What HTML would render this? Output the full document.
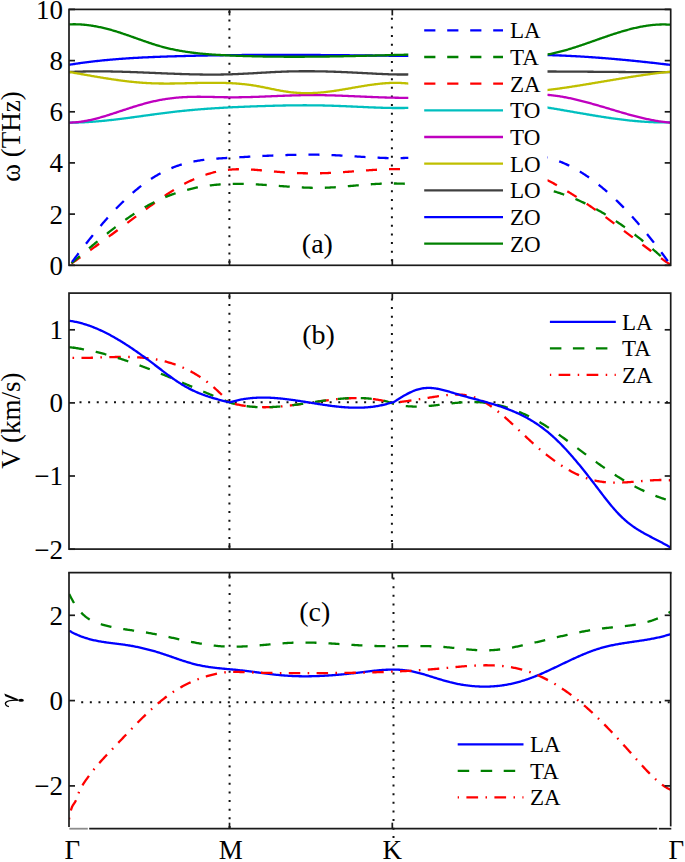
<!DOCTYPE html><html><head><meta charset="utf-8"><style>html,body{margin:0;padding:0;background:#fff;}svg{display:block;}text{font-family:"Liberation Serif",serif;fill:#000;}</style></head><body>
<svg width="685" height="862" viewBox="0 0 685 862">
<rect width="685" height="862" fill="#fff"/>
<defs>
<clipPath id="ca"><rect x="69.0" y="8.4" width="601.7" height="257.9"/></clipPath>
<clipPath id="cb"><rect x="69.0" y="292.1" width="601.7" height="258.0"/></clipPath>
<clipPath id="cc"><rect x="69.0" y="571.6" width="601.7" height="258.1"/></clipPath>
</defs>
<line x1="229.4" y1="10.9" x2="229.4" y2="266.3" stroke="#111" stroke-width="2" stroke-dasharray="2,6.625" fill="none"/>
<line x1="391.9" y1="17.8" x2="391.9" y2="266.3" stroke="#111" stroke-width="2" stroke-dasharray="2,6.625" fill="none"/>
<line x1="229.4" y1="295.4" x2="229.4" y2="550.1" stroke="#111" stroke-width="2" stroke-dasharray="2,6.625" fill="none"/>
<line x1="391.9" y1="298.4" x2="391.9" y2="550.1" stroke="#111" stroke-width="2" stroke-dasharray="2,6.625" fill="none"/>
<line x1="229.6" y1="575.8" x2="229.6" y2="829.7" stroke="#111" stroke-width="2" stroke-dasharray="2,6.625" fill="none"/>
<line x1="393.5" y1="577.5" x2="393.5" y2="829.7" stroke="#111" stroke-width="2" stroke-dasharray="2,6.625" fill="none"/>
<rect x="392.5" y="836" width="2" height="2" fill="#111"/>
<line x1="79.5" y1="402.3" x2="670.7" y2="402.3" stroke="#111" stroke-width="2" stroke-dasharray="2,6.625" fill="none"/>
<line x1="81.2" y1="702.2" x2="670.7" y2="702.2" stroke="#111" stroke-width="2" stroke-dasharray="2,6.625" fill="none"/>
<g clip-path="url(#ca)">
<path d="M69.20,122.62 L70.20,122.62 L71.20,122.62 L72.20,122.61 L73.20,122.60 L74.20,122.58 L75.20,122.57 L76.20,122.55 L77.20,122.52 L78.20,122.49 L79.20,122.46 L80.20,122.43 L81.20,122.39 L82.20,122.35 L83.20,122.30 L84.20,122.25 L85.20,122.20 L86.20,122.15 L87.20,122.09 L88.20,122.04 L89.20,121.97 L90.20,121.91 L91.20,121.84 L92.20,121.77 L93.20,121.70 L94.20,121.62 L95.20,121.55 L96.20,121.47 L97.20,121.38 L98.20,121.30 L99.20,121.21 L100.20,121.12 L101.20,121.03 L102.20,120.94 L103.20,120.84 L104.20,120.74 L105.20,120.64 L106.20,120.54 L107.20,120.44 L108.20,120.33 L109.20,120.22 L110.20,120.12 L111.20,120.00 L112.20,119.89 L113.20,119.78 L114.20,119.66 L115.20,119.55 L116.20,119.43 L117.20,119.31 L118.20,119.19 L119.20,119.06 L120.20,118.94 L121.20,118.81 L122.20,118.69 L123.20,118.56 L124.20,118.43 L125.20,118.30 L126.20,118.17 L127.20,118.04 L128.20,117.91 L129.20,117.78 L130.20,117.64 L131.20,117.51 L132.20,117.38 L133.20,117.24 L134.20,117.10 L135.20,116.97 L136.20,116.83 L137.20,116.69 L138.20,116.56 L139.20,116.42 L140.20,116.28 L141.20,116.14 L142.20,116.01 L143.20,115.87 L144.20,115.73 L145.20,115.59 L146.20,115.45 L147.20,115.31 L148.20,115.18 L149.20,115.04 L150.20,114.90 L151.20,114.76 L152.20,114.63 L153.20,114.49 L154.20,114.35 L155.20,114.22 L156.20,114.08 L157.20,113.95 L158.20,113.82 L159.20,113.68 L160.20,113.55 L161.20,113.42 L162.20,113.29 L163.20,113.16 L164.20,113.03 L165.20,112.91 L166.20,112.78 L167.20,112.65 L168.20,112.53 L169.20,112.41 L170.20,112.29 L171.20,112.17 L172.20,112.05 L173.20,111.93 L174.20,111.81 L175.20,111.70 L176.20,111.59 L177.20,111.48 L178.20,111.37 L179.20,111.26 L180.20,111.15 L181.20,111.04 L182.20,110.94 L183.20,110.84 L184.20,110.74 L185.20,110.64 L186.20,110.54 L187.20,110.44 L188.20,110.35 L189.20,110.25 L190.20,110.16 L191.20,110.07 L192.20,109.98 L193.20,109.89 L194.20,109.80 L195.20,109.71 L196.20,109.63 L197.20,109.54 L198.20,109.46 L199.20,109.38 L200.20,109.30 L201.20,109.22 L202.20,109.14 L203.20,109.06 L204.20,108.99 L205.20,108.91 L206.20,108.84 L207.20,108.77 L208.20,108.69 L209.20,108.62 L210.20,108.55 L211.20,108.49 L212.20,108.42 L213.20,108.35 L214.20,108.29 L215.20,108.22 L216.20,108.16 L217.20,108.10 L218.20,108.04 L219.20,107.98 L220.20,107.92 L221.20,107.86 L222.20,107.80 L223.20,107.74 L224.20,107.69 L225.20,107.63 L226.20,107.58 L227.20,107.53 L228.20,107.47 L229.20,107.42 L230.20,107.37 L231.20,107.32 L232.20,107.27 L233.20,107.22 L234.20,107.17 L235.20,107.13 L236.20,107.08 L237.20,107.04 L238.20,106.99 L239.20,106.95 L240.20,106.90 L241.20,106.86 L242.20,106.82 L243.20,106.78 L244.20,106.74 L245.20,106.69 L246.20,106.66 L247.20,106.62 L248.20,106.58 L249.20,106.54 L250.20,106.50 L251.20,106.46 L252.20,106.43 L253.20,106.39 L254.20,106.36 L255.20,106.32 L256.20,106.29 L257.20,106.25 L258.20,106.22 L259.20,106.19 L260.20,106.15 L261.20,106.12 L262.20,106.09 L263.20,106.06 L264.20,106.03 L265.20,106.00 L266.20,105.97 L267.20,105.94 L268.20,105.91 L269.20,105.88 L270.20,105.85 L271.20,105.82 L272.20,105.79 L273.20,105.77 L274.20,105.74 L275.20,105.71 L276.20,105.69 L277.20,105.66 L278.20,105.64 L279.20,105.61 L280.20,105.59 L281.20,105.56 L282.20,105.54 L283.20,105.52 L284.20,105.50 L285.20,105.48 L286.20,105.46 L287.20,105.44 L288.20,105.42 L289.20,105.41 L290.20,105.39 L291.20,105.38 L292.20,105.36 L293.20,105.35 L294.20,105.34 L295.20,105.33 L296.20,105.31 L297.20,105.31 L298.20,105.30 L299.20,105.29 L300.20,105.28 L301.20,105.28 L302.20,105.28 L303.20,105.27 L304.20,105.27 L305.20,105.27 L306.20,105.27 L307.20,105.28 L308.20,105.28 L309.20,105.28 L310.20,105.29 L311.20,105.30 L312.20,105.31 L313.20,105.32 L314.20,105.33 L315.20,105.34 L316.20,105.36 L317.20,105.37 L318.20,105.39 L319.20,105.41 L320.20,105.43 L321.20,105.45 L322.20,105.47 L323.20,105.49 L324.20,105.52 L325.20,105.54 L326.20,105.57 L327.20,105.59 L328.20,105.62 L329.20,105.65 L330.20,105.68 L331.20,105.71 L332.20,105.74 L333.20,105.77 L334.20,105.81 L335.20,105.84 L336.20,105.87 L337.20,105.91 L338.20,105.95 L339.20,105.98 L340.20,106.02 L341.20,106.06 L342.20,106.10 L343.20,106.14 L344.20,106.18 L345.20,106.22 L346.20,106.26 L347.20,106.30 L348.20,106.35 L349.20,106.39 L350.20,106.43 L351.20,106.48 L352.20,106.52 L353.20,106.57 L354.20,106.61 L355.20,106.66 L356.20,106.70 L357.20,106.75 L358.20,106.79 L359.20,106.84 L360.20,106.88 L361.20,106.93 L362.20,106.97 L363.20,107.02 L364.20,107.06 L365.20,107.11 L366.20,107.15 L367.20,107.20 L368.20,107.24 L369.20,107.28 L370.20,107.32 L371.20,107.36 L372.20,107.40 L373.20,107.44 L374.20,107.48 L375.20,107.52 L376.20,107.56 L377.20,107.59 L378.20,107.63 L379.20,107.66 L380.20,107.69 L381.20,107.73 L382.20,107.76 L383.20,107.78 L384.20,107.81 L385.20,107.84 L386.20,107.86 L387.20,107.89 L388.20,107.91 L389.20,107.93 L390.20,107.94 L391.20,107.96 L392.20,107.98 L393.20,107.99 L394.20,108.00 L395.20,108.01 L396.20,108.01 L397.20,108.02 L398.20,108.02 L399.20,108.02 L400.20,108.02 L401.20,108.02 L402.20,108.01 L403.20,108.00 L404.20,107.99 L405.20,107.97 L406.20,107.96 L407.20,107.94 L408.20,107.92 L409.20,107.89 L410.20,107.86 L411.20,107.83 L412.20,107.80 L413.20,107.77 L414.20,107.73 L415.20,107.68 L416.20,107.64 L417.20,107.59 L418.20,107.54 L419.20,107.48 L420.00,107.44" fill="none" stroke="#00bfbf" stroke-width="2.3" stroke-linejoin="round"/>
<path d="M535.00,105.69 L536.00,105.84 L537.00,105.98 L538.00,106.13 L539.00,106.28 L540.00,106.43 L541.00,106.58 L542.00,106.73 L543.00,106.88 L544.00,107.04 L545.00,107.19 L546.00,107.35 L547.00,107.51 L548.00,107.67 L549.00,107.83 L550.00,107.99 L551.00,108.16 L552.00,108.32 L553.00,108.49 L554.00,108.65 L555.00,108.82 L556.00,108.98 L557.00,109.15 L558.00,109.32 L559.00,109.49 L560.00,109.66 L561.00,109.83 L562.00,110.00 L563.00,110.17 L564.00,110.35 L565.00,110.52 L566.00,110.69 L567.00,110.87 L568.00,111.04 L569.00,111.21 L570.00,111.39 L571.00,111.56 L572.00,111.73 L573.00,111.91 L574.00,112.08 L575.00,112.26 L576.00,112.43 L577.00,112.60 L578.00,112.78 L579.00,112.95 L580.00,113.13 L581.00,113.30 L582.00,113.47 L583.00,113.64 L584.00,113.82 L585.00,113.99 L586.00,114.16 L587.00,114.33 L588.00,114.50 L589.00,114.67 L590.00,114.83 L591.00,115.00 L592.00,115.17 L593.00,115.34 L594.00,115.50 L595.00,115.67 L596.00,115.83 L597.00,115.99 L598.00,116.15 L599.00,116.31 L600.00,116.47 L601.00,116.63 L602.00,116.79 L603.00,116.94 L604.00,117.10 L605.00,117.25 L606.00,117.40 L607.00,117.55 L608.00,117.70 L609.00,117.85 L610.00,117.99 L611.00,118.14 L612.00,118.28 L613.00,118.42 L614.00,118.56 L615.00,118.70 L616.00,118.83 L617.00,118.97 L618.00,119.10 L619.00,119.23 L620.00,119.36 L621.00,119.48 L622.00,119.61 L623.00,119.73 L624.00,119.85 L625.00,119.97 L626.00,120.08 L627.00,120.19 L628.00,120.31 L629.00,120.41 L630.00,120.52 L631.00,120.62 L632.00,120.72 L633.00,120.82 L634.00,120.92 L635.00,121.01 L636.00,121.10 L637.00,121.19 L638.00,121.27 L639.00,121.36 L640.00,121.44 L641.00,121.51 L642.00,121.59 L643.00,121.66 L644.00,121.72 L645.00,121.79 L646.00,121.85 L647.00,121.91 L648.00,121.96 L649.00,122.02 L650.00,122.06 L651.00,122.11 L652.00,122.15 L653.00,122.19 L654.00,122.23 L655.00,122.26 L656.00,122.29 L657.00,122.31 L658.00,122.33 L659.00,122.35 L660.00,122.36 L661.00,122.37 L662.00,122.38 L663.00,122.38 L664.00,122.38 L665.00,122.37 L666.00,122.36 L667.00,122.35 L668.00,122.33 L669.00,122.31 L670.00,122.29 L670.70,122.27" fill="none" stroke="#00bfbf" stroke-width="2.3" stroke-linejoin="round"/>
<path d="M69.20,122.59 L70.20,122.57 L71.20,122.55 L72.20,122.51 L73.20,122.46 L74.20,122.39 L75.20,122.32 L76.20,122.23 L77.20,122.14 L78.20,122.03 L79.20,121.91 L80.20,121.78 L81.20,121.65 L82.20,121.50 L83.20,121.34 L84.20,121.18 L85.20,121.00 L86.20,120.82 L87.20,120.63 L88.20,120.43 L89.20,120.22 L90.20,120.01 L91.20,119.79 L92.20,119.56 L93.20,119.32 L94.20,119.08 L95.20,118.83 L96.20,118.57 L97.20,118.31 L98.20,118.04 L99.20,117.77 L100.20,117.49 L101.20,117.21 L102.20,116.92 L103.20,116.63 L104.20,116.33 L105.20,116.03 L106.20,115.73 L107.20,115.42 L108.20,115.11 L109.20,114.79 L110.20,114.47 L111.20,114.15 L112.20,113.83 L113.20,113.51 L114.20,113.18 L115.20,112.85 L116.20,112.53 L117.20,112.20 L118.20,111.86 L119.20,111.53 L120.20,111.20 L121.20,110.87 L122.20,110.54 L123.20,110.21 L124.20,109.88 L125.20,109.55 L126.20,109.22 L127.20,108.89 L128.20,108.56 L129.20,108.24 L130.20,107.92 L131.20,107.60 L132.20,107.28 L133.20,106.96 L134.20,106.65 L135.20,106.35 L136.20,106.04 L137.20,105.74 L138.20,105.44 L139.20,105.15 L140.20,104.85 L141.20,104.57 L142.20,104.28 L143.20,104.00 L144.20,103.73 L145.20,103.46 L146.20,103.19 L147.20,102.93 L148.20,102.67 L149.20,102.42 L150.20,102.17 L151.20,101.93 L152.20,101.69 L153.20,101.46 L154.20,101.24 L155.20,101.01 L156.20,100.80 L157.20,100.59 L158.20,100.39 L159.20,100.19 L160.20,99.99 L161.20,99.81 L162.20,99.63 L163.20,99.46 L164.20,99.29 L165.20,99.13 L166.20,98.97 L167.20,98.82 L168.20,98.68 L169.20,98.54 L170.20,98.41 L171.20,98.28 L172.20,98.16 L173.20,98.05 L174.20,97.94 L175.20,97.83 L176.20,97.73 L177.20,97.64 L178.20,97.55 L179.20,97.47 L180.20,97.39 L181.20,97.32 L182.20,97.25 L183.20,97.19 L184.20,97.13 L185.20,97.08 L186.20,97.03 L187.20,96.98 L188.20,96.94 L189.20,96.91 L190.20,96.88 L191.20,96.85 L192.20,96.83 L193.20,96.81 L194.20,96.80 L195.20,96.79 L196.20,96.78 L197.20,96.77 L198.20,96.77 L199.20,96.77 L200.20,96.77 L201.20,96.78 L202.20,96.79 L203.20,96.80 L204.20,96.81 L205.20,96.83 L206.20,96.84 L207.20,96.86 L208.20,96.88 L209.20,96.90 L210.20,96.92 L211.20,96.94 L212.20,96.96 L213.20,96.99 L214.20,97.01 L215.20,97.03 L216.20,97.06 L217.20,97.08 L218.20,97.10 L219.20,97.13 L220.20,97.15 L221.20,97.17 L222.20,97.19 L223.20,97.21 L224.20,97.23 L225.20,97.24 L226.20,97.26 L227.20,97.27 L228.20,97.28 L229.20,97.29 L230.20,97.30 L231.20,97.30 L232.20,97.31 L233.20,97.31 L234.20,97.31 L235.20,97.30 L236.20,97.30 L237.20,97.29 L238.20,97.28 L239.20,97.27 L240.20,97.26 L241.20,97.24 L242.20,97.22 L243.20,97.21 L244.20,97.19 L245.20,97.17 L246.20,97.14 L247.20,97.12 L248.20,97.09 L249.20,97.07 L250.20,97.04 L251.20,97.01 L252.20,96.98 L253.20,96.95 L254.20,96.92 L255.20,96.88 L256.20,96.85 L257.20,96.81 L258.20,96.78 L259.20,96.74 L260.20,96.70 L261.20,96.66 L262.20,96.63 L263.20,96.59 L264.20,96.55 L265.20,96.51 L266.20,96.47 L267.20,96.43 L268.20,96.38 L269.20,96.34 L270.20,96.30 L271.20,96.26 L272.20,96.22 L273.20,96.18 L274.20,96.13 L275.20,96.09 L276.20,96.05 L277.20,96.01 L278.20,95.97 L279.20,95.93 L280.20,95.89 L281.20,95.85 L282.20,95.81 L283.20,95.77 L284.20,95.73 L285.20,95.69 L286.20,95.65 L287.20,95.62 L288.20,95.58 L289.20,95.55 L290.20,95.51 L291.20,95.48 L292.20,95.45 L293.20,95.42 L294.20,95.39 L295.20,95.36 L296.20,95.33 L297.20,95.30 L298.20,95.28 L299.20,95.25 L300.20,95.23 L301.20,95.21 L302.20,95.19 L303.20,95.17 L304.20,95.16 L305.20,95.14 L306.20,95.13 L307.20,95.12 L308.20,95.11 L309.20,95.10 L310.20,95.10 L311.20,95.09 L312.20,95.09 L313.20,95.09 L314.20,95.10 L315.20,95.10 L316.20,95.11 L317.20,95.11 L318.20,95.12 L319.20,95.13 L320.20,95.15 L321.20,95.16 L322.20,95.18 L323.20,95.19 L324.20,95.21 L325.20,95.23 L326.20,95.25 L327.20,95.28 L328.20,95.30 L329.20,95.33 L330.20,95.35 L331.20,95.38 L332.20,95.41 L333.20,95.44 L334.20,95.47 L335.20,95.50 L336.20,95.53 L337.20,95.57 L338.20,95.60 L339.20,95.64 L340.20,95.67 L341.20,95.71 L342.20,95.75 L343.20,95.79 L344.20,95.83 L345.20,95.87 L346.20,95.91 L347.20,95.95 L348.20,95.99 L349.20,96.03 L350.20,96.07 L351.20,96.12 L352.20,96.16 L353.20,96.20 L354.20,96.25 L355.20,96.29 L356.20,96.33 L357.20,96.38 L358.20,96.42 L359.20,96.46 L360.20,96.51 L361.20,96.55 L362.20,96.60 L363.20,96.64 L364.20,96.68 L365.20,96.73 L366.20,96.77 L367.20,96.81 L368.20,96.85 L369.20,96.90 L370.20,96.94 L371.20,96.98 L372.20,97.02 L373.20,97.06 L374.20,97.10 L375.20,97.14 L376.20,97.18 L377.20,97.22 L378.20,97.25 L379.20,97.29 L380.20,97.32 L381.20,97.36 L382.20,97.39 L383.20,97.42 L384.20,97.46 L385.20,97.49 L386.20,97.52 L387.20,97.55 L388.20,97.57 L389.20,97.60 L390.20,97.62 L391.20,97.65 L392.20,97.67 L393.20,97.69 L394.20,97.71 L395.20,97.73 L396.20,97.75 L397.20,97.76 L398.20,97.77 L399.20,97.79 L400.20,97.80 L401.20,97.81 L402.20,97.81 L403.20,97.82 L404.20,97.82 L405.20,97.82 L406.20,97.82 L407.20,97.82 L408.20,97.82 L409.20,97.81 L410.20,97.80 L411.20,97.79 L412.20,97.78 L413.20,97.77 L414.20,97.75 L415.20,97.73 L416.20,97.71 L417.20,97.69 L418.20,97.66 L419.20,97.63 L420.00,97.61" fill="none" stroke="#bf00bf" stroke-width="2.3" stroke-linejoin="round"/>
<path d="M535.00,94.46 L536.00,94.44 L537.00,94.44 L538.00,94.44 L539.00,94.46 L540.00,94.48 L541.00,94.50 L542.00,94.54 L543.00,94.58 L544.00,94.63 L545.00,94.69 L546.00,94.76 L547.00,94.83 L548.00,94.91 L549.00,95.00 L550.00,95.09 L551.00,95.19 L552.00,95.30 L553.00,95.41 L554.00,95.53 L555.00,95.66 L556.00,95.79 L557.00,95.93 L558.00,96.08 L559.00,96.23 L560.00,96.38 L561.00,96.55 L562.00,96.71 L563.00,96.89 L564.00,97.06 L565.00,97.25 L566.00,97.44 L567.00,97.63 L568.00,97.83 L569.00,98.03 L570.00,98.24 L571.00,98.45 L572.00,98.67 L573.00,98.89 L574.00,99.11 L575.00,99.34 L576.00,99.57 L577.00,99.81 L578.00,100.05 L579.00,100.29 L580.00,100.54 L581.00,100.79 L582.00,101.05 L583.00,101.30 L584.00,101.56 L585.00,101.83 L586.00,102.09 L587.00,102.36 L588.00,102.63 L589.00,102.91 L590.00,103.18 L591.00,103.46 L592.00,103.74 L593.00,104.02 L594.00,104.31 L595.00,104.59 L596.00,104.88 L597.00,105.17 L598.00,105.46 L599.00,105.75 L600.00,106.04 L601.00,106.34 L602.00,106.63 L603.00,106.93 L604.00,107.22 L605.00,107.52 L606.00,107.82 L607.00,108.12 L608.00,108.42 L609.00,108.71 L610.00,109.01 L611.00,109.31 L612.00,109.61 L613.00,109.91 L614.00,110.21 L615.00,110.50 L616.00,110.80 L617.00,111.10 L618.00,111.39 L619.00,111.69 L620.00,111.98 L621.00,112.27 L622.00,112.56 L623.00,112.85 L624.00,113.14 L625.00,113.42 L626.00,113.71 L627.00,113.99 L628.00,114.27 L629.00,114.54 L630.00,114.82 L631.00,115.09 L632.00,115.36 L633.00,115.63 L634.00,115.89 L635.00,116.16 L636.00,116.42 L637.00,116.67 L638.00,116.92 L639.00,117.17 L640.00,117.42 L641.00,117.66 L642.00,117.90 L643.00,118.13 L644.00,118.36 L645.00,118.59 L646.00,118.81 L647.00,119.03 L648.00,119.24 L649.00,119.45 L650.00,119.66 L651.00,119.86 L652.00,120.05 L653.00,120.24 L654.00,120.43 L655.00,120.60 L656.00,120.78 L657.00,120.95 L658.00,121.11 L659.00,121.27 L660.00,121.42 L661.00,121.56 L662.00,121.70 L663.00,121.83 L664.00,121.96 L665.00,122.08 L666.00,122.19 L667.00,122.30 L668.00,122.40 L669.00,122.49 L670.00,122.58 L670.70,122.63" fill="none" stroke="#bf00bf" stroke-width="2.3" stroke-linejoin="round"/>
<path d="M69.20,72.04 L70.20,71.99 L71.20,71.94 L72.20,71.89 L73.20,71.85 L74.20,71.81 L75.20,71.77 L76.20,71.73 L77.20,71.69 L78.20,71.66 L79.20,71.63 L80.20,71.60 L81.20,71.57 L82.20,71.54 L83.20,71.52 L84.20,71.50 L85.20,71.48 L86.20,71.46 L87.20,71.44 L88.20,71.43 L89.20,71.41 L90.20,71.40 L91.20,71.39 L92.20,71.38 L93.20,71.37 L94.20,71.37 L95.20,71.36 L96.20,71.36 L97.20,71.36 L98.20,71.36 L99.20,71.36 L100.20,71.37 L101.20,71.37 L102.20,71.38 L103.20,71.39 L104.20,71.39 L105.20,71.40 L106.20,71.42 L107.20,71.43 L108.20,71.44 L109.20,71.46 L110.20,71.47 L111.20,71.49 L112.20,71.51 L113.20,71.53 L114.20,71.55 L115.20,71.57 L116.20,71.59 L117.20,71.62 L118.20,71.64 L119.20,71.67 L120.20,71.69 L121.20,71.72 L122.20,71.75 L123.20,71.78 L124.20,71.81 L125.20,71.84 L126.20,71.87 L127.20,71.90 L128.20,71.94 L129.20,71.97 L130.20,72.00 L131.20,72.04 L132.20,72.07 L133.20,72.11 L134.20,72.15 L135.20,72.18 L136.20,72.22 L137.20,72.26 L138.20,72.30 L139.20,72.34 L140.20,72.37 L141.20,72.41 L142.20,72.45 L143.20,72.49 L144.20,72.54 L145.20,72.58 L146.20,72.62 L147.20,72.66 L148.20,72.70 L149.20,72.74 L150.20,72.78 L151.20,72.83 L152.20,72.87 L153.20,72.91 L154.20,72.95 L155.20,72.99 L156.20,73.04 L157.20,73.08 L158.20,73.12 L159.20,73.16 L160.20,73.20 L161.20,73.25 L162.20,73.29 L163.20,73.33 L164.20,73.37 L165.20,73.41 L166.20,73.45 L167.20,73.49 L168.20,73.53 L169.20,73.57 L170.20,73.61 L171.20,73.65 L172.20,73.69 L173.20,73.72 L174.20,73.76 L175.20,73.80 L176.20,73.84 L177.20,73.87 L178.20,73.91 L179.20,73.94 L180.20,73.98 L181.20,74.01 L182.20,74.04 L183.20,74.07 L184.20,74.11 L185.20,74.14 L186.20,74.17 L187.20,74.19 L188.20,74.22 L189.20,74.25 L190.20,74.28 L191.20,74.30 L192.20,74.33 L193.20,74.35 L194.20,74.37 L195.20,74.39 L196.20,74.41 L197.20,74.43 L198.20,74.45 L199.20,74.47 L200.20,74.48 L201.20,74.50 L202.20,74.51 L203.20,74.53 L204.20,74.54 L205.20,74.55 L206.20,74.56 L207.20,74.56 L208.20,74.57 L209.20,74.57 L210.20,74.58 L211.20,74.58 L212.20,74.58 L213.20,74.58 L214.20,74.58 L215.20,74.57 L216.20,74.57 L217.20,74.56 L218.20,74.55 L219.20,74.54 L220.20,74.53 L221.20,74.51 L222.20,74.50 L223.20,74.48 L224.20,74.46 L225.20,74.44 L226.20,74.42 L227.20,74.39 L228.20,74.37 L229.20,74.34 L230.20,74.31 L231.20,74.28 L232.20,74.24 L233.20,74.21 L234.20,74.17 L235.20,74.13 L236.20,74.09 L237.20,74.05 L238.20,74.00 L239.20,73.96 L240.20,73.91 L241.20,73.87 L242.20,73.82 L243.20,73.77 L244.20,73.72 L245.20,73.67 L246.20,73.61 L247.20,73.56 L248.20,73.51 L249.20,73.45 L250.20,73.40 L251.20,73.34 L252.20,73.28 L253.20,73.23 L254.20,73.17 L255.20,73.11 L256.20,73.06 L257.20,73.00 L258.20,72.94 L259.20,72.88 L260.20,72.82 L261.20,72.77 L262.20,72.71 L263.20,72.65 L264.20,72.59 L265.20,72.54 L266.20,72.48 L267.20,72.43 L268.20,72.37 L269.20,72.32 L270.20,72.26 L271.20,72.21 L272.20,72.16 L273.20,72.11 L274.20,72.05 L275.20,72.01 L276.20,71.96 L277.20,71.91 L278.20,71.86 L279.20,71.82 L280.20,71.78 L281.20,71.73 L282.20,71.69 L283.20,71.65 L284.20,71.62 L285.20,71.58 L286.20,71.55 L287.20,71.52 L288.20,71.48 L289.20,71.46 L290.20,71.43 L291.20,71.40 L292.20,71.38 L293.20,71.36 L294.20,71.34 L295.20,71.32 L296.20,71.31 L297.20,71.29 L298.20,71.28 L299.20,71.27 L300.20,71.26 L301.20,71.25 L302.20,71.24 L303.20,71.24 L304.20,71.23 L305.20,71.23 L306.20,71.23 L307.20,71.23 L308.20,71.23 L309.20,71.24 L310.20,71.24 L311.20,71.25 L312.20,71.25 L313.20,71.26 L314.20,71.27 L315.20,71.29 L316.20,71.30 L317.20,71.31 L318.20,71.33 L319.20,71.35 L320.20,71.36 L321.20,71.38 L322.20,71.40 L323.20,71.42 L324.20,71.45 L325.20,71.47 L326.20,71.50 L327.20,71.52 L328.20,71.55 L329.20,71.58 L330.20,71.61 L331.20,71.64 L332.20,71.67 L333.20,71.70 L334.20,71.73 L335.20,71.77 L336.20,71.80 L337.20,71.84 L338.20,71.88 L339.20,71.92 L340.20,71.95 L341.20,71.99 L342.20,72.03 L343.20,72.07 L344.20,72.12 L345.20,72.16 L346.20,72.20 L347.20,72.25 L348.20,72.29 L349.20,72.34 L350.20,72.38 L351.20,72.43 L352.20,72.48 L353.20,72.53 L354.20,72.58 L355.20,72.63 L356.20,72.67 L357.20,72.73 L358.20,72.78 L359.20,72.83 L360.20,72.88 L361.20,72.93 L362.20,72.99 L363.20,73.04 L364.20,73.09 L365.20,73.15 L366.20,73.20 L367.20,73.25 L368.20,73.31 L369.20,73.36 L370.20,73.42 L371.20,73.47 L372.20,73.52 L373.20,73.58 L374.20,73.63 L375.20,73.68 L376.20,73.73 L377.20,73.78 L378.20,73.83 L379.20,73.88 L380.20,73.93 L381.20,73.97 L382.20,74.02 L383.20,74.06 L384.20,74.10 L385.20,74.14 L386.20,74.18 L387.20,74.22 L388.20,74.25 L389.20,74.29 L390.20,74.32 L391.20,74.35 L392.20,74.38 L393.20,74.40 L394.20,74.43 L395.20,74.45 L396.20,74.46 L397.20,74.48 L398.20,74.49 L399.20,74.50 L400.20,74.51 L401.20,74.52 L402.20,74.52 L403.20,74.52 L404.20,74.51 L405.20,74.50 L406.20,74.49 L407.20,74.48 L408.20,74.46 L409.20,74.44 L410.20,74.41 L411.20,74.38 L412.20,74.35 L413.20,74.31 L414.20,74.27 L415.20,74.23 L416.20,74.18 L417.20,74.13 L418.20,74.07 L419.20,74.01 L420.00,73.95" fill="none" stroke="#404040" stroke-width="2.3" stroke-linejoin="round"/>
<path d="M535.00,71.50 L536.00,71.50 L537.00,71.50 L538.00,71.50 L539.00,71.49 L540.00,71.49 L541.00,71.49 L542.00,71.49 L543.00,71.49 L544.00,71.49 L545.00,71.50 L546.00,71.50 L547.00,71.50 L548.00,71.50 L549.00,71.50 L550.00,71.50 L551.00,71.51 L552.00,71.51 L553.00,71.51 L554.00,71.52 L555.00,71.52 L556.00,71.52 L557.00,71.53 L558.00,71.53 L559.00,71.53 L560.00,71.54 L561.00,71.54 L562.00,71.55 L563.00,71.55 L564.00,71.56 L565.00,71.56 L566.00,71.57 L567.00,71.58 L568.00,71.58 L569.00,71.59 L570.00,71.59 L571.00,71.60 L572.00,71.61 L573.00,71.61 L574.00,71.62 L575.00,71.63 L576.00,71.63 L577.00,71.64 L578.00,71.65 L579.00,71.66 L580.00,71.66 L581.00,71.67 L582.00,71.68 L583.00,71.69 L584.00,71.69 L585.00,71.70 L586.00,71.71 L587.00,71.72 L588.00,71.73 L589.00,71.73 L590.00,71.74 L591.00,71.75 L592.00,71.76 L593.00,71.77 L594.00,71.78 L595.00,71.78 L596.00,71.79 L597.00,71.80 L598.00,71.81 L599.00,71.82 L600.00,71.83 L601.00,71.83 L602.00,71.84 L603.00,71.85 L604.00,71.86 L605.00,71.87 L606.00,71.88 L607.00,71.88 L608.00,71.89 L609.00,71.90 L610.00,71.91 L611.00,71.92 L612.00,71.92 L613.00,71.93 L614.00,71.94 L615.00,71.95 L616.00,71.96 L617.00,71.96 L618.00,71.97 L619.00,71.98 L620.00,71.98 L621.00,71.99 L622.00,72.00 L623.00,72.01 L624.00,72.01 L625.00,72.02 L626.00,72.03 L627.00,72.03 L628.00,72.04 L629.00,72.04 L630.00,72.05 L631.00,72.06 L632.00,72.06 L633.00,72.07 L634.00,72.07 L635.00,72.08 L636.00,72.08 L637.00,72.09 L638.00,72.09 L639.00,72.10 L640.00,72.10 L641.00,72.10 L642.00,72.11 L643.00,72.11 L644.00,72.11 L645.00,72.12 L646.00,72.12 L647.00,72.12 L648.00,72.13 L649.00,72.13 L650.00,72.13 L651.00,72.13 L652.00,72.13 L653.00,72.13 L654.00,72.13 L655.00,72.13 L656.00,72.13 L657.00,72.13 L658.00,72.13 L659.00,72.13 L660.00,72.13 L661.00,72.13 L662.00,72.13 L663.00,72.13 L664.00,72.12 L665.00,72.12 L666.00,72.12 L667.00,72.12 L668.00,72.11 L669.00,72.11 L670.00,72.10 L670.70,72.10" fill="none" stroke="#404040" stroke-width="2.3" stroke-linejoin="round"/>
<path d="M69.20,71.96 L70.20,72.13 L71.20,72.30 L72.20,72.48 L73.20,72.66 L74.20,72.83 L75.20,73.01 L76.20,73.19 L77.20,73.36 L78.20,73.54 L79.20,73.72 L80.20,73.89 L81.20,74.07 L82.20,74.25 L83.20,74.43 L84.20,74.60 L85.20,74.78 L86.20,74.96 L87.20,75.13 L88.20,75.31 L89.20,75.48 L90.20,75.66 L91.20,75.83 L92.20,76.01 L93.20,76.18 L94.20,76.35 L95.20,76.52 L96.20,76.69 L97.20,76.86 L98.20,77.03 L99.20,77.20 L100.20,77.37 L101.20,77.53 L102.20,77.70 L103.20,77.86 L104.20,78.03 L105.20,78.19 L106.20,78.35 L107.20,78.51 L108.20,78.66 L109.20,78.82 L110.20,78.97 L111.20,79.12 L112.20,79.27 L113.20,79.42 L114.20,79.57 L115.20,79.71 L116.20,79.86 L117.20,80.00 L118.20,80.14 L119.20,80.28 L120.20,80.41 L121.20,80.54 L122.20,80.67 L123.20,80.80 L124.20,80.93 L125.20,81.05 L126.20,81.17 L127.20,81.29 L128.20,81.41 L129.20,81.52 L130.20,81.63 L131.20,81.74 L132.20,81.85 L133.20,81.95 L134.20,82.05 L135.20,82.15 L136.20,82.24 L137.20,82.33 L138.20,82.42 L139.20,82.50 L140.20,82.58 L141.20,82.66 L142.20,82.74 L143.20,82.81 L144.20,82.88 L145.20,82.94 L146.20,83.00 L147.20,83.06 L148.20,83.11 L149.20,83.16 L150.20,83.21 L151.20,83.25 L152.20,83.29 L153.20,83.33 L154.20,83.36 L155.20,83.39 L156.20,83.42 L157.20,83.44 L158.20,83.46 L159.20,83.48 L160.20,83.49 L161.20,83.51 L162.20,83.52 L163.20,83.52 L164.20,83.53 L165.20,83.53 L166.20,83.53 L167.20,83.53 L168.20,83.53 L169.20,83.53 L170.20,83.52 L171.20,83.51 L172.20,83.50 L173.20,83.49 L174.20,83.48 L175.20,83.46 L176.20,83.45 L177.20,83.43 L178.20,83.41 L179.20,83.39 L180.20,83.37 L181.20,83.35 L182.20,83.33 L183.20,83.31 L184.20,83.29 L185.20,83.26 L186.20,83.24 L187.20,83.21 L188.20,83.19 L189.20,83.17 L190.20,83.14 L191.20,83.12 L192.20,83.09 L193.20,83.07 L194.20,83.05 L195.20,83.02 L196.20,83.00 L197.20,82.98 L198.20,82.96 L199.20,82.94 L200.20,82.92 L201.20,82.90 L202.20,82.88 L203.20,82.86 L204.20,82.85 L205.20,82.83 L206.20,82.82 L207.20,82.81 L208.20,82.80 L209.20,82.79 L210.20,82.79 L211.20,82.78 L212.20,82.78 L213.20,82.78 L214.20,82.78 L215.20,82.78 L216.20,82.79 L217.20,82.80 L218.20,82.81 L219.20,82.82 L220.20,82.84 L221.20,82.85 L222.20,82.88 L223.20,82.90 L224.20,82.93 L225.20,82.96 L226.20,82.99 L227.20,83.03 L228.20,83.07 L229.20,83.11 L230.20,83.16 L231.20,83.21 L232.20,83.26 L233.20,83.32 L234.20,83.38 L235.20,83.45 L236.20,83.52 L237.20,83.59 L238.20,83.67 L239.20,83.75 L240.20,83.84 L241.20,83.93 L242.20,84.03 L243.20,84.13 L244.20,84.23 L245.20,84.34 L246.20,84.46 L247.20,84.58 L248.20,84.71 L249.20,84.84 L250.20,84.97 L251.20,85.11 L252.20,85.26 L253.20,85.41 L254.20,85.57 L255.20,85.73 L256.20,85.90 L257.20,86.08 L258.20,86.25 L259.20,86.44 L260.20,86.62 L261.20,86.81 L262.20,87.00 L263.20,87.20 L264.20,87.40 L265.20,87.60 L266.20,87.80 L267.20,88.00 L268.20,88.20 L269.20,88.41 L270.20,88.61 L271.20,88.82 L272.20,89.02 L273.20,89.22 L274.20,89.42 L275.20,89.62 L276.20,89.82 L277.20,90.01 L278.20,90.21 L279.20,90.39 L280.20,90.58 L281.20,90.76 L282.20,90.94 L283.20,91.11 L284.20,91.28 L285.20,91.44 L286.20,91.60 L287.20,91.75 L288.20,91.89 L289.20,92.03 L290.20,92.16 L291.20,92.28 L292.20,92.40 L293.20,92.51 L294.20,92.60 L295.20,92.69 L296.20,92.77 L297.20,92.85 L298.20,92.91 L299.20,92.97 L300.20,93.02 L301.20,93.06 L302.20,93.10 L303.20,93.12 L304.20,93.14 L305.20,93.15 L306.20,93.16 L307.20,93.16 L308.20,93.15 L309.20,93.13 L310.20,93.11 L311.20,93.08 L312.20,93.05 L313.20,93.01 L314.20,92.96 L315.20,92.90 L316.20,92.85 L317.20,92.78 L318.20,92.71 L319.20,92.63 L320.20,92.55 L321.20,92.46 L322.20,92.37 L323.20,92.27 L324.20,92.17 L325.20,92.06 L326.20,91.95 L327.20,91.84 L328.20,91.72 L329.20,91.59 L330.20,91.46 L331.20,91.33 L332.20,91.19 L333.20,91.05 L334.20,90.90 L335.20,90.76 L336.20,90.61 L337.20,90.45 L338.20,90.30 L339.20,90.14 L340.20,89.97 L341.20,89.81 L342.20,89.64 L343.20,89.48 L344.20,89.31 L345.20,89.14 L346.20,88.96 L347.20,88.79 L348.20,88.62 L349.20,88.44 L350.20,88.27 L351.20,88.09 L352.20,87.92 L353.20,87.74 L354.20,87.56 L355.20,87.39 L356.20,87.21 L357.20,87.04 L358.20,86.87 L359.20,86.70 L360.20,86.53 L361.20,86.36 L362.20,86.19 L363.20,86.02 L364.20,85.86 L365.20,85.70 L366.20,85.54 L367.20,85.39 L368.20,85.23 L369.20,85.08 L370.20,84.94 L371.20,84.79 L372.20,84.65 L373.20,84.52 L374.20,84.39 L375.20,84.26 L376.20,84.14 L377.20,84.02 L378.20,83.90 L379.20,83.79 L380.20,83.69 L381.20,83.59 L382.20,83.50 L383.20,83.41 L384.20,83.32 L385.20,83.25 L386.20,83.18 L387.20,83.11 L388.20,83.06 L389.20,83.01 L390.20,82.96 L391.20,82.93 L392.20,82.90 L393.20,82.88 L394.20,82.86 L395.20,82.86 L396.20,82.86 L397.20,82.87 L398.20,82.89 L399.20,82.91 L400.20,82.95 L401.20,83.00 L402.20,83.05 L403.20,83.11 L404.20,83.19 L405.20,83.27 L406.20,83.36 L407.20,83.47 L408.20,83.58 L409.20,83.70 L410.20,83.84 L411.20,83.98 L412.20,84.14 L413.20,84.30 L414.20,84.48 L415.20,84.67 L416.20,84.88 L417.20,85.09 L418.20,85.32 L419.20,85.55 L420.00,85.75" fill="none" stroke="#bfbf00" stroke-width="2.3" stroke-linejoin="round"/>
<path d="M535.00,91.35 L536.00,91.26 L537.00,91.16 L538.00,91.06 L539.00,90.96 L540.00,90.86 L541.00,90.75 L542.00,90.64 L543.00,90.53 L544.00,90.42 L545.00,90.31 L546.00,90.19 L547.00,90.07 L548.00,89.95 L549.00,89.83 L550.00,89.71 L551.00,89.59 L552.00,89.46 L553.00,89.33 L554.00,89.20 L555.00,89.07 L556.00,88.94 L557.00,88.81 L558.00,88.67 L559.00,88.53 L560.00,88.39 L561.00,88.25 L562.00,88.11 L563.00,87.97 L564.00,87.83 L565.00,87.68 L566.00,87.53 L567.00,87.39 L568.00,87.24 L569.00,87.09 L570.00,86.94 L571.00,86.79 L572.00,86.63 L573.00,86.48 L574.00,86.32 L575.00,86.17 L576.00,86.01 L577.00,85.85 L578.00,85.69 L579.00,85.53 L580.00,85.37 L581.00,85.21 L582.00,85.05 L583.00,84.89 L584.00,84.73 L585.00,84.56 L586.00,84.40 L587.00,84.23 L588.00,84.07 L589.00,83.90 L590.00,83.74 L591.00,83.57 L592.00,83.40 L593.00,83.23 L594.00,83.07 L595.00,82.90 L596.00,82.73 L597.00,82.56 L598.00,82.39 L599.00,82.22 L600.00,82.05 L601.00,81.88 L602.00,81.71 L603.00,81.55 L604.00,81.38 L605.00,81.21 L606.00,81.04 L607.00,80.87 L608.00,80.70 L609.00,80.53 L610.00,80.36 L611.00,80.19 L612.00,80.02 L613.00,79.85 L614.00,79.69 L615.00,79.52 L616.00,79.35 L617.00,79.19 L618.00,79.02 L619.00,78.85 L620.00,78.69 L621.00,78.52 L622.00,78.36 L623.00,78.19 L624.00,78.03 L625.00,77.87 L626.00,77.71 L627.00,77.55 L628.00,77.39 L629.00,77.23 L630.00,77.07 L631.00,76.91 L632.00,76.75 L633.00,76.60 L634.00,76.44 L635.00,76.29 L636.00,76.14 L637.00,75.98 L638.00,75.83 L639.00,75.68 L640.00,75.53 L641.00,75.39 L642.00,75.24 L643.00,75.09 L644.00,74.95 L645.00,74.81 L646.00,74.67 L647.00,74.53 L648.00,74.39 L649.00,74.25 L650.00,74.12 L651.00,73.98 L652.00,73.85 L653.00,73.72 L654.00,73.59 L655.00,73.46 L656.00,73.33 L657.00,73.21 L658.00,73.09 L659.00,72.97 L660.00,72.85 L661.00,72.73 L662.00,72.61 L663.00,72.50 L664.00,72.39 L665.00,72.28 L666.00,72.17 L667.00,72.07 L668.00,71.96 L669.00,71.86 L670.00,71.76 L670.70,71.69" fill="none" stroke="#bfbf00" stroke-width="2.3" stroke-linejoin="round"/>
<path d="M69.20,64.79 L70.20,64.63 L71.20,64.47 L72.20,64.31 L73.20,64.15 L74.20,64.00 L75.20,63.85 L76.20,63.70 L77.20,63.55 L78.20,63.40 L79.20,63.26 L80.20,63.12 L81.20,62.98 L82.20,62.84 L83.20,62.70 L84.20,62.57 L85.20,62.43 L86.20,62.30 L87.20,62.17 L88.20,62.05 L89.20,61.92 L90.20,61.80 L91.20,61.68 L92.20,61.56 L93.20,61.44 L94.20,61.33 L95.20,61.21 L96.20,61.10 L97.20,60.99 L98.20,60.88 L99.20,60.77 L100.20,60.67 L101.20,60.56 L102.20,60.46 L103.20,60.36 L104.20,60.26 L105.20,60.17 L106.20,60.07 L107.20,59.98 L108.20,59.88 L109.20,59.79 L110.20,59.70 L111.20,59.61 L112.20,59.53 L113.20,59.44 L114.20,59.36 L115.20,59.28 L116.20,59.19 L117.20,59.12 L118.20,59.04 L119.20,58.96 L120.20,58.88 L121.20,58.81 L122.20,58.74 L123.20,58.67 L124.20,58.60 L125.20,58.53 L126.20,58.46 L127.20,58.39 L128.20,58.33 L129.20,58.26 L130.20,58.20 L131.20,58.14 L132.20,58.07 L133.20,58.01 L134.20,57.96 L135.20,57.90 L136.20,57.84 L137.20,57.79 L138.20,57.73 L139.20,57.68 L140.20,57.62 L141.20,57.57 L142.20,57.52 L143.20,57.47 L144.20,57.42 L145.20,57.37 L146.20,57.33 L147.20,57.28 L148.20,57.24 L149.20,57.19 L150.20,57.15 L151.20,57.10 L152.20,57.06 L153.20,57.02 L154.20,56.98 L155.20,56.94 L156.20,56.90 L157.20,56.86 L158.20,56.82 L159.20,56.78 L160.20,56.75 L161.20,56.71 L162.20,56.68 L163.20,56.64 L164.20,56.61 L165.20,56.57 L166.20,56.54 L167.20,56.50 L168.20,56.47 L169.20,56.44 L170.20,56.41 L171.20,56.38 L172.20,56.35 L173.20,56.32 L174.20,56.29 L175.20,56.26 L176.20,56.23 L177.20,56.20 L178.20,56.17 L179.20,56.14 L180.20,56.11 L181.20,56.09 L182.20,56.06 L183.20,56.03 L184.20,56.01 L185.20,55.98 L186.20,55.95 L187.20,55.93 L188.20,55.90 L189.20,55.88 L190.20,55.86 L191.20,55.83 L192.20,55.81 L193.20,55.78 L194.20,55.76 L195.20,55.74 L196.20,55.72 L197.20,55.69 L198.20,55.67 L199.20,55.65 L200.20,55.63 L201.20,55.61 L202.20,55.59 L203.20,55.57 L204.20,55.55 L205.20,55.53 L206.20,55.51 L207.20,55.49 L208.20,55.47 L209.20,55.46 L210.20,55.44 L211.20,55.42 L212.20,55.40 L213.20,55.39 L214.20,55.37 L215.20,55.35 L216.20,55.34 L217.20,55.32 L218.20,55.31 L219.20,55.29 L220.20,55.28 L221.20,55.26 L222.20,55.25 L223.20,55.24 L224.20,55.22 L225.20,55.21 L226.20,55.20 L227.20,55.18 L228.20,55.17 L229.20,55.16 L230.20,55.15 L231.20,55.13 L232.20,55.12 L233.20,55.11 L234.20,55.10 L235.20,55.09 L236.20,55.08 L237.20,55.07 L238.20,55.06 L239.20,55.05 L240.20,55.04 L241.20,55.03 L242.20,55.02 L243.20,55.02 L244.20,55.01 L245.20,55.00 L246.20,54.99 L247.20,54.99 L248.20,54.98 L249.20,54.97 L250.20,54.96 L251.20,54.96 L252.20,54.95 L253.20,54.95 L254.20,54.94 L255.20,54.94 L256.20,54.93 L257.20,54.93 L258.20,54.92 L259.20,54.92 L260.20,54.91 L261.20,54.91 L262.20,54.90 L263.20,54.90 L264.20,54.90 L265.20,54.89 L266.20,54.89 L267.20,54.89 L268.20,54.89 L269.20,54.88 L270.20,54.88 L271.20,54.88 L272.20,54.88 L273.20,54.88 L274.20,54.88 L275.20,54.88 L276.20,54.87 L277.20,54.87 L278.20,54.87 L279.20,54.87 L280.20,54.87 L281.20,54.87 L282.20,54.87 L283.20,54.88 L284.20,54.88 L285.20,54.88 L286.20,54.88 L287.20,54.88 L288.20,54.88 L289.20,54.88 L290.20,54.89 L291.20,54.89 L292.20,54.89 L293.20,54.89 L294.20,54.89 L295.20,54.90 L296.20,54.90 L297.20,54.90 L298.20,54.91 L299.20,54.91 L300.20,54.91 L301.20,54.92 L302.20,54.92 L303.20,54.93 L304.20,54.93 L305.20,54.94 L306.20,54.94 L307.20,54.95 L308.20,54.95 L309.20,54.96 L310.20,54.96 L311.20,54.97 L312.20,54.97 L313.20,54.98 L314.20,54.98 L315.20,54.99 L316.20,55.00 L317.20,55.00 L318.20,55.01 L319.20,55.02 L320.20,55.02 L321.20,55.03 L322.20,55.04 L323.20,55.04 L324.20,55.05 L325.20,55.06 L326.20,55.07 L327.20,55.07 L328.20,55.08 L329.20,55.09 L330.20,55.10 L331.20,55.11 L332.20,55.11 L333.20,55.12 L334.20,55.13 L335.20,55.14 L336.20,55.15 L337.20,55.16 L338.20,55.17 L339.20,55.18 L340.20,55.18 L341.20,55.19 L342.20,55.20 L343.20,55.21 L344.20,55.22 L345.20,55.23 L346.20,55.24 L347.20,55.25 L348.20,55.26 L349.20,55.27 L350.20,55.28 L351.20,55.29 L352.20,55.30 L353.20,55.31 L354.20,55.32 L355.20,55.33 L356.20,55.34 L357.20,55.36 L358.20,55.37 L359.20,55.38 L360.20,55.39 L361.20,55.40 L362.20,55.41 L363.20,55.42 L364.20,55.43 L365.20,55.44 L366.20,55.46 L367.20,55.47 L368.20,55.48 L369.20,55.49 L370.20,55.50 L371.20,55.51 L372.20,55.52 L373.20,55.54 L374.20,55.55 L375.20,55.56 L376.20,55.57 L377.20,55.58 L378.20,55.60 L379.20,55.61 L380.20,55.62 L381.20,55.63 L382.20,55.64 L383.20,55.66 L384.20,55.67 L385.20,55.68 L386.20,55.69 L387.20,55.71 L388.20,55.72 L389.20,55.73 L390.20,55.74 L391.20,55.76 L392.20,55.77 L393.20,55.78 L394.20,55.79 L395.20,55.81 L396.20,55.82 L397.20,55.83 L398.20,55.84 L399.20,55.86 L400.20,55.87 L401.20,55.88 L402.20,55.89 L403.20,55.91 L404.20,55.92 L405.20,55.93 L406.20,55.94 L407.20,55.96 L408.20,55.97 L409.20,55.98 L410.20,55.99 L411.20,56.01 L412.20,56.02 L413.20,56.03 L414.20,56.05 L415.20,56.06 L416.20,56.07 L417.20,56.08 L418.20,56.10 L419.20,56.11 L420.00,56.12" fill="none" stroke="#0000ff" stroke-width="2.3" stroke-linejoin="round"/>
<path d="M535.00,54.82 L536.00,54.83 L537.00,54.85 L538.00,54.86 L539.00,54.88 L540.00,54.90 L541.00,54.92 L542.00,54.94 L543.00,54.96 L544.00,54.98 L545.00,55.00 L546.00,55.03 L547.00,55.05 L548.00,55.08 L549.00,55.11 L550.00,55.14 L551.00,55.17 L552.00,55.20 L553.00,55.23 L554.00,55.26 L555.00,55.30 L556.00,55.33 L557.00,55.37 L558.00,55.40 L559.00,55.44 L560.00,55.48 L561.00,55.52 L562.00,55.56 L563.00,55.61 L564.00,55.65 L565.00,55.69 L566.00,55.74 L567.00,55.79 L568.00,55.83 L569.00,55.88 L570.00,55.93 L571.00,55.98 L572.00,56.03 L573.00,56.08 L574.00,56.14 L575.00,56.19 L576.00,56.24 L577.00,56.30 L578.00,56.36 L579.00,56.41 L580.00,56.47 L581.00,56.53 L582.00,56.59 L583.00,56.65 L584.00,56.72 L585.00,56.78 L586.00,56.84 L587.00,56.91 L588.00,56.97 L589.00,57.04 L590.00,57.11 L591.00,57.18 L592.00,57.24 L593.00,57.31 L594.00,57.39 L595.00,57.46 L596.00,57.53 L597.00,57.60 L598.00,57.68 L599.00,57.75 L600.00,57.83 L601.00,57.90 L602.00,57.98 L603.00,58.06 L604.00,58.14 L605.00,58.22 L606.00,58.30 L607.00,58.38 L608.00,58.46 L609.00,58.55 L610.00,58.63 L611.00,58.71 L612.00,58.80 L613.00,58.88 L614.00,58.97 L615.00,59.06 L616.00,59.15 L617.00,59.23 L618.00,59.32 L619.00,59.41 L620.00,59.51 L621.00,59.60 L622.00,59.69 L623.00,59.78 L624.00,59.88 L625.00,59.97 L626.00,60.07 L627.00,60.16 L628.00,60.26 L629.00,60.35 L630.00,60.45 L631.00,60.55 L632.00,60.65 L633.00,60.75 L634.00,60.85 L635.00,60.95 L636.00,61.05 L637.00,61.15 L638.00,61.26 L639.00,61.36 L640.00,61.47 L641.00,61.57 L642.00,61.68 L643.00,61.78 L644.00,61.89 L645.00,61.99 L646.00,62.10 L647.00,62.21 L648.00,62.32 L649.00,62.43 L650.00,62.54 L651.00,62.65 L652.00,62.76 L653.00,62.87 L654.00,62.98 L655.00,63.10 L656.00,63.21 L657.00,63.32 L658.00,63.44 L659.00,63.55 L660.00,63.67 L661.00,63.78 L662.00,63.90 L663.00,64.01 L664.00,64.13 L665.00,64.25 L666.00,64.37 L667.00,64.49 L668.00,64.60 L669.00,64.72 L670.00,64.84 L670.70,64.93" fill="none" stroke="#0000ff" stroke-width="2.3" stroke-linejoin="round"/>
<path d="M69.20,24.37 L70.20,24.33 L71.20,24.30 L72.20,24.28 L73.20,24.26 L74.20,24.26 L75.20,24.27 L76.20,24.28 L77.20,24.31 L78.20,24.34 L79.20,24.39 L80.20,24.44 L81.20,24.50 L82.20,24.57 L83.20,24.65 L84.20,24.74 L85.20,24.84 L86.20,24.94 L87.20,25.06 L88.20,25.18 L89.20,25.31 L90.20,25.44 L91.20,25.59 L92.20,25.74 L93.20,25.90 L94.20,26.07 L95.20,26.25 L96.20,26.43 L97.20,26.62 L98.20,26.82 L99.20,27.02 L100.20,27.23 L101.20,27.45 L102.20,27.67 L103.20,27.90 L104.20,28.14 L105.20,28.39 L106.20,28.64 L107.20,28.89 L108.20,29.15 L109.20,29.42 L110.20,29.70 L111.20,29.97 L112.20,30.26 L113.20,30.55 L114.20,30.85 L115.20,31.15 L116.20,31.45 L117.20,31.76 L118.20,32.08 L119.20,32.40 L120.20,32.72 L121.20,33.05 L122.20,33.38 L123.20,33.72 L124.20,34.05 L125.20,34.39 L126.20,34.74 L127.20,35.08 L128.20,35.43 L129.20,35.78 L130.20,36.13 L131.20,36.48 L132.20,36.84 L133.20,37.19 L134.20,37.55 L135.20,37.90 L136.20,38.26 L137.20,38.62 L138.20,38.97 L139.20,39.33 L140.20,39.68 L141.20,40.04 L142.20,40.39 L143.20,40.74 L144.20,41.09 L145.20,41.43 L146.20,41.78 L147.20,42.12 L148.20,42.46 L149.20,42.80 L150.20,43.13 L151.20,43.46 L152.20,43.78 L153.20,44.11 L154.20,44.42 L155.20,44.74 L156.20,45.05 L157.20,45.35 L158.20,45.65 L159.20,45.94 L160.20,46.23 L161.20,46.51 L162.20,46.79 L163.20,47.06 L164.20,47.32 L165.20,47.58 L166.20,47.83 L167.20,48.08 L168.20,48.32 L169.20,48.55 L170.20,48.78 L171.20,49.01 L172.20,49.23 L173.20,49.44 L174.20,49.65 L175.20,49.85 L176.20,50.05 L177.20,50.25 L178.20,50.43 L179.20,50.62 L180.20,50.80 L181.20,50.97 L182.20,51.14 L183.20,51.31 L184.20,51.47 L185.20,51.63 L186.20,51.78 L187.20,51.93 L188.20,52.07 L189.20,52.22 L190.20,52.35 L191.20,52.49 L192.20,52.61 L193.20,52.74 L194.20,52.86 L195.20,52.98 L196.20,53.10 L197.20,53.21 L198.20,53.32 L199.20,53.42 L200.20,53.52 L201.20,53.62 L202.20,53.72 L203.20,53.81 L204.20,53.90 L205.20,53.99 L206.20,54.07 L207.20,54.15 L208.20,54.23 L209.20,54.31 L210.20,54.38 L211.20,54.46 L212.20,54.53 L213.20,54.59 L214.20,54.66 L215.20,54.72 L216.20,54.79 L217.20,54.85 L218.20,54.90 L219.20,54.96 L220.20,55.02 L221.20,55.07 L222.20,55.12 L223.20,55.17 L224.20,55.22 L225.20,55.27 L226.20,55.32 L227.20,55.36 L228.20,55.41 L229.20,55.45 L230.20,55.49 L231.20,55.53 L232.20,55.58 L233.20,55.62 L234.20,55.66 L235.20,55.70 L236.20,55.73 L237.20,55.77 L238.20,55.81 L239.20,55.84 L240.20,55.88 L241.20,55.91 L242.20,55.95 L243.20,55.98 L244.20,56.01 L245.20,56.04 L246.20,56.07 L247.20,56.10 L248.20,56.13 L249.20,56.16 L250.20,56.19 L251.20,56.21 L252.20,56.24 L253.20,56.27 L254.20,56.29 L255.20,56.31 L256.20,56.34 L257.20,56.36 L258.20,56.38 L259.20,56.40 L260.20,56.42 L261.20,56.44 L262.20,56.46 L263.20,56.48 L264.20,56.50 L265.20,56.52 L266.20,56.53 L267.20,56.55 L268.20,56.56 L269.20,56.58 L270.20,56.59 L271.20,56.61 L272.20,56.62 L273.20,56.63 L274.20,56.64 L275.20,56.65 L276.20,56.66 L277.20,56.67 L278.20,56.68 L279.20,56.69 L280.20,56.70 L281.20,56.71 L282.20,56.71 L283.20,56.72 L284.20,56.73 L285.20,56.73 L286.20,56.74 L287.20,56.74 L288.20,56.74 L289.20,56.75 L290.20,56.75 L291.20,56.75 L292.20,56.75 L293.20,56.75 L294.20,56.75 L295.20,56.75 L296.20,56.75 L297.20,56.75 L298.20,56.75 L299.20,56.75 L300.20,56.74 L301.20,56.74 L302.20,56.74 L303.20,56.73 L304.20,56.73 L305.20,56.72 L306.20,56.72 L307.20,56.71 L308.20,56.71 L309.20,56.70 L310.20,56.69 L311.20,56.68 L312.20,56.68 L313.20,56.67 L314.20,56.66 L315.20,56.65 L316.20,56.64 L317.20,56.63 L318.20,56.62 L319.20,56.61 L320.20,56.60 L321.20,56.59 L322.20,56.57 L323.20,56.56 L324.20,56.55 L325.20,56.54 L326.20,56.52 L327.20,56.51 L328.20,56.49 L329.20,56.48 L330.20,56.46 L331.20,56.45 L332.20,56.43 L333.20,56.42 L334.20,56.40 L335.20,56.38 L336.20,56.37 L337.20,56.35 L338.20,56.33 L339.20,56.31 L340.20,56.30 L341.20,56.28 L342.20,56.26 L343.20,56.24 L344.20,56.22 L345.20,56.20 L346.20,56.18 L347.20,56.16 L348.20,56.14 L349.20,56.12 L350.20,56.10 L351.20,56.08 L352.20,56.06 L353.20,56.04 L354.20,56.02 L355.20,55.99 L356.20,55.97 L357.20,55.95 L358.20,55.93 L359.20,55.90 L360.20,55.88 L361.20,55.86 L362.20,55.84 L363.20,55.81 L364.20,55.79 L365.20,55.76 L366.20,55.74 L367.20,55.72 L368.20,55.69 L369.20,55.67 L370.20,55.64 L371.20,55.62 L372.20,55.59 L373.20,55.57 L374.20,55.54 L375.20,55.52 L376.20,55.49 L377.20,55.47 L378.20,55.44 L379.20,55.42 L380.20,55.39 L381.20,55.37 L382.20,55.34 L383.20,55.31 L384.20,55.29 L385.20,55.26 L386.20,55.24 L387.20,55.21 L388.20,55.18 L389.20,55.16 L390.20,55.13 L391.20,55.10 L392.20,55.08 L393.20,55.05 L394.20,55.02 L395.20,55.00 L396.20,54.97 L397.20,54.94 L398.20,54.92 L399.20,54.89 L400.20,54.86 L401.20,54.84 L402.20,54.81 L403.20,54.78 L404.20,54.76 L405.20,54.73 L406.20,54.70 L407.20,54.68 L408.20,54.65 L409.20,54.62 L410.20,54.60 L411.20,54.57 L412.20,54.55 L413.20,54.52 L414.20,54.49 L415.20,54.47 L416.20,54.44 L417.20,54.42 L418.20,54.39 L419.20,54.36 L420.00,54.34" fill="none" stroke="#008000" stroke-width="2.3" stroke-linejoin="round"/>
<path d="M535.00,56.18 L536.00,56.09 L537.00,56.00 L538.00,55.90 L539.00,55.79 L540.00,55.67 L541.00,55.54 L542.00,55.40 L543.00,55.26 L544.00,55.10 L545.00,54.94 L546.00,54.78 L547.00,54.60 L548.00,54.42 L549.00,54.23 L550.00,54.03 L551.00,53.83 L552.00,53.62 L553.00,53.41 L554.00,53.18 L555.00,52.96 L556.00,52.72 L557.00,52.48 L558.00,52.23 L559.00,51.98 L560.00,51.72 L561.00,51.46 L562.00,51.19 L563.00,50.92 L564.00,50.64 L565.00,50.36 L566.00,50.08 L567.00,49.78 L568.00,49.49 L569.00,49.19 L570.00,48.89 L571.00,48.58 L572.00,48.27 L573.00,47.95 L574.00,47.64 L575.00,47.32 L576.00,46.99 L577.00,46.67 L578.00,46.34 L579.00,46.00 L580.00,45.67 L581.00,45.33 L582.00,44.99 L583.00,44.65 L584.00,44.31 L585.00,43.97 L586.00,43.62 L587.00,43.28 L588.00,42.93 L589.00,42.58 L590.00,42.23 L591.00,41.88 L592.00,41.53 L593.00,41.17 L594.00,40.82 L595.00,40.47 L596.00,40.12 L597.00,39.77 L598.00,39.41 L599.00,39.06 L600.00,38.71 L601.00,38.36 L602.00,38.01 L603.00,37.66 L604.00,37.32 L605.00,36.97 L606.00,36.63 L607.00,36.29 L608.00,35.95 L609.00,35.61 L610.00,35.27 L611.00,34.94 L612.00,34.61 L613.00,34.28 L614.00,33.95 L615.00,33.63 L616.00,33.31 L617.00,32.99 L618.00,32.68 L619.00,32.37 L620.00,32.06 L621.00,31.76 L622.00,31.46 L623.00,31.16 L624.00,30.87 L625.00,30.59 L626.00,30.30 L627.00,30.03 L628.00,29.75 L629.00,29.49 L630.00,29.23 L631.00,28.97 L632.00,28.72 L633.00,28.47 L634.00,28.23 L635.00,28.00 L636.00,27.77 L637.00,27.55 L638.00,27.33 L639.00,27.12 L640.00,26.92 L641.00,26.73 L642.00,26.54 L643.00,26.36 L644.00,26.18 L645.00,26.02 L646.00,25.86 L647.00,25.70 L648.00,25.56 L649.00,25.43 L650.00,25.30 L651.00,25.18 L652.00,25.07 L653.00,24.97 L654.00,24.87 L655.00,24.79 L656.00,24.71 L657.00,24.65 L658.00,24.59 L659.00,24.55 L660.00,24.51 L661.00,24.48 L662.00,24.46 L663.00,24.46 L664.00,24.46 L665.00,24.47 L666.00,24.50 L667.00,24.53 L668.00,24.58 L669.00,24.63 L670.00,24.70 L670.70,24.76" fill="none" stroke="#008000" stroke-width="2.3" stroke-linejoin="round"/>
<path d="M69.40,264.86 L70.40,264.18 L71.40,263.49 L72.40,262.80 L73.40,262.11 L74.40,261.42 L75.40,260.72 L76.40,260.02 L77.40,259.32 L78.40,258.62 L79.40,257.92 L80.40,257.21 L81.40,256.51 L82.40,255.80 L83.40,255.09 L84.40,254.38 L85.40,253.67 L86.40,252.95 L87.40,252.24 L88.40,251.52 L89.40,250.80 L90.40,250.08 L91.40,249.36 L92.40,248.64 L93.40,247.91 L94.40,247.19 L95.40,246.46 L96.40,245.73 L97.40,245.00 L98.40,244.27 L99.40,243.54 L100.40,242.81 L101.40,242.08 L102.40,241.35 L103.40,240.61 L104.40,239.88 L105.40,239.14 L106.40,238.40 L107.40,237.67 L108.40,236.93 L109.40,236.19 L110.40,235.45 L111.40,234.71 L112.40,233.97 L113.40,233.23 L114.40,232.49 L115.40,231.75 L116.40,231.01 L117.40,230.27 L118.40,229.53 L119.40,228.78 L120.40,228.04 L121.40,227.30 L122.40,226.56 L123.40,225.82 L124.40,225.07 L125.40,224.33 L126.40,223.59 L127.40,222.85 L128.40,222.11 L129.40,221.37 L130.40,220.62 L131.40,219.88 L132.40,219.14 L133.40,218.40 L134.40,217.66 L135.40,216.93 L136.40,216.19 L137.40,215.45 L138.40,214.71 L139.40,213.98 L140.40,213.24 L141.40,212.50 L142.40,211.77 L143.40,211.04 L144.40,210.30 L145.40,209.57 L146.40,208.84 L147.40,208.11 L148.40,207.38 L149.40,206.66 L150.40,205.93 L151.40,205.21 L152.40,204.49 L153.40,203.77 L154.40,203.05 L155.40,202.34 L156.40,201.63 L157.40,200.92 L158.40,200.22 L159.40,199.52 L160.40,198.82 L161.40,198.13 L162.40,197.44 L163.40,196.76 L164.40,196.08 L165.40,195.41 L166.40,194.74 L167.40,194.08 L168.40,193.42 L169.40,192.77 L170.40,192.13 L171.40,191.49 L172.40,190.86 L173.40,190.23 L174.40,189.61 L175.40,189.00 L176.40,188.40 L177.40,187.80 L178.40,187.22 L179.40,186.64 L180.40,186.07 L181.40,185.50 L182.40,184.95 L183.40,184.40 L184.40,183.87 L185.40,183.34 L186.40,182.82 L187.40,182.31 L188.40,181.82 L189.40,181.33 L190.40,180.85 L191.40,180.38 L192.40,179.92 L193.40,179.47 L194.40,179.03 L195.40,178.60 L196.40,178.17 L197.40,177.76 L198.40,177.36 L199.40,176.97 L200.40,176.58 L201.40,176.21 L202.40,175.85 L203.40,175.49 L204.40,175.15 L205.40,174.81 L206.40,174.49 L207.40,174.17 L208.40,173.87 L209.40,173.57 L210.40,173.29 L211.40,173.01 L212.40,172.74 L213.40,172.49 L214.40,172.24 L215.40,172.00 L216.40,171.77 L217.40,171.56 L218.40,171.35 L219.40,171.15 L220.40,170.96 L221.40,170.78 L222.40,170.61 L223.40,170.45 L224.40,170.31 L225.40,170.17 L226.40,170.04 L227.40,169.92 L228.40,169.81 L229.40,169.71 L230.40,169.62 L231.40,169.54 L232.40,169.47 L233.40,169.41 L234.40,169.35 L235.40,169.31 L236.40,169.27 L237.40,169.25 L238.40,169.23 L239.40,169.21 L240.40,169.21 L241.40,169.21 L242.40,169.22 L243.40,169.24 L244.40,169.26 L245.40,169.29 L246.40,169.32 L247.40,169.36 L248.40,169.40 L249.40,169.45 L250.40,169.51 L251.40,169.56 L252.40,169.63 L253.40,169.69 L254.40,169.76 L255.40,169.84 L256.40,169.91 L257.40,169.99 L258.40,170.08 L259.40,170.16 L260.40,170.25 L261.40,170.34 L262.40,170.43 L263.40,170.52 L264.40,170.61 L265.40,170.70 L266.40,170.80 L267.40,170.89 L268.40,170.99 L269.40,171.08 L270.40,171.17 L271.40,171.27 L272.40,171.36 L273.40,171.45 L274.40,171.54 L275.40,171.62 L276.40,171.71 L277.40,171.79 L278.40,171.87 L279.40,171.95 L280.40,172.03 L281.40,172.11 L282.40,172.18 L283.40,172.25 L284.40,172.32 L285.40,172.39 L286.40,172.46 L287.40,172.52 L288.40,172.58 L289.40,172.64 L290.40,172.70 L291.40,172.75 L292.40,172.80 L293.40,172.85 L294.40,172.90 L295.40,172.95 L296.40,172.99 L297.40,173.03 L298.40,173.07 L299.40,173.11 L300.40,173.14 L301.40,173.17 L302.40,173.20 L303.40,173.23 L304.40,173.25 L305.40,173.27 L306.40,173.29 L307.40,173.31 L308.40,173.32 L309.40,173.33 L310.40,173.34 L311.40,173.34 L312.40,173.34 L313.40,173.34 L314.40,173.34 L315.40,173.33 L316.40,173.32 L317.40,173.31 L318.40,173.29 L319.40,173.28 L320.40,173.25 L321.40,173.23 L322.40,173.20 L323.40,173.17 L324.40,173.14 L325.40,173.10 L326.40,173.07 L327.40,173.03 L328.40,172.98 L329.40,172.94 L330.40,172.89 L331.40,172.84 L332.40,172.79 L333.40,172.73 L334.40,172.68 L335.40,172.62 L336.40,172.56 L337.40,172.50 L338.40,172.44 L339.40,172.38 L340.40,172.31 L341.40,172.24 L342.40,172.18 L343.40,172.11 L344.40,172.04 L345.40,171.97 L346.40,171.90 L347.40,171.82 L348.40,171.75 L349.40,171.68 L350.40,171.60 L351.40,171.53 L352.40,171.45 L353.40,171.38 L354.40,171.30 L355.40,171.23 L356.40,171.15 L357.40,171.08 L358.40,171.00 L359.40,170.93 L360.40,170.85 L361.40,170.78 L362.40,170.70 L363.40,170.63 L364.40,170.56 L365.40,170.49 L366.40,170.41 L367.40,170.34 L368.40,170.28 L369.40,170.21 L370.40,170.14 L371.40,170.07 L372.40,170.01 L373.40,169.95 L374.40,169.89 L375.40,169.83 L376.40,169.77 L377.40,169.71 L378.40,169.66 L379.40,169.61 L380.40,169.56 L381.40,169.51 L382.40,169.46 L383.40,169.42 L384.40,169.38 L385.40,169.34 L386.40,169.30 L387.40,169.27 L388.40,169.24 L389.40,169.21 L390.40,169.18 L391.40,169.16 L392.40,169.14 L393.40,169.12 L394.40,169.11 L395.40,169.10 L396.40,169.09 L397.40,169.09 L398.40,169.09 L399.40,169.10 L400.40,169.10 L401.40,169.12 L402.40,169.13 L403.40,169.15 L404.40,169.17 L405.40,169.20 L406.40,169.23 L407.40,169.27 L408.40,169.31 L409.40,169.36 L410.40,169.41 L411.40,169.46 L412.40,169.52 L413.40,169.58 L414.40,169.65 L415.40,169.73 L416.40,169.81 L417.40,169.89 L418.40,169.98 L419.40,170.08 L420.00,170.14" fill="none" stroke="#ff0000" stroke-width="2.3" stroke-dasharray="11.00,12.05" stroke-dashoffset="20.67"/>
<path d="M535.00,174.57 L536.00,174.99 L537.00,175.41 L538.00,175.84 L539.00,176.28 L540.00,176.72 L541.00,177.17 L542.00,177.63 L543.00,178.10 L544.00,178.57 L545.00,179.04 L546.00,179.53 L547.00,180.02 L548.00,180.52 L549.00,181.02 L550.00,181.53 L551.00,182.04 L552.00,182.56 L553.00,183.09 L554.00,183.62 L555.00,184.16 L556.00,184.70 L557.00,185.25 L558.00,185.81 L559.00,186.37 L560.00,186.93 L561.00,187.51 L562.00,188.08 L563.00,188.66 L564.00,189.25 L565.00,189.84 L566.00,190.44 L567.00,191.04 L568.00,191.64 L569.00,192.26 L570.00,192.87 L571.00,193.49 L572.00,194.11 L573.00,194.74 L574.00,195.38 L575.00,196.01 L576.00,196.65 L577.00,197.30 L578.00,197.95 L579.00,198.60 L580.00,199.26 L581.00,199.92 L582.00,200.58 L583.00,201.25 L584.00,201.92 L585.00,202.60 L586.00,203.28 L587.00,203.96 L588.00,204.64 L589.00,205.33 L590.00,206.02 L591.00,206.72 L592.00,207.41 L593.00,208.11 L594.00,208.82 L595.00,209.52 L596.00,210.23 L597.00,210.94 L598.00,211.65 L599.00,212.37 L600.00,213.09 L601.00,213.81 L602.00,214.53 L603.00,215.25 L604.00,215.98 L605.00,216.71 L606.00,217.44 L607.00,218.17 L608.00,218.90 L609.00,219.64 L610.00,220.37 L611.00,221.11 L612.00,221.85 L613.00,222.59 L614.00,223.33 L615.00,224.08 L616.00,224.82 L617.00,225.57 L618.00,226.31 L619.00,227.06 L620.00,227.81 L621.00,228.56 L622.00,229.31 L623.00,230.06 L624.00,230.81 L625.00,231.56 L626.00,232.31 L627.00,233.06 L628.00,233.81 L629.00,234.56 L630.00,235.31 L631.00,236.06 L632.00,236.82 L633.00,237.57 L634.00,238.32 L635.00,239.07 L636.00,239.82 L637.00,240.57 L638.00,241.32 L639.00,242.06 L640.00,242.81 L641.00,243.56 L642.00,244.30 L643.00,245.05 L644.00,245.79 L645.00,246.54 L646.00,247.28 L647.00,248.02 L648.00,248.76 L649.00,249.49 L650.00,250.23 L651.00,250.96 L652.00,251.70 L653.00,252.43 L654.00,253.16 L655.00,253.88 L656.00,254.61 L657.00,255.33 L658.00,256.05 L659.00,256.77 L660.00,257.49 L661.00,258.20 L662.00,258.91 L663.00,259.62 L664.00,260.33 L665.00,261.03 L666.00,261.73 L667.00,262.43 L668.00,263.13 L669.00,263.82 L670.00,264.51 L670.70,264.99" fill="none" stroke="#ff0000" stroke-width="2.3" stroke-dasharray="11.00,12.05" stroke-dashoffset="9.70"/>
<path d="M69.20,265.17 L70.20,264.32 L71.20,263.48 L72.20,262.63 L73.20,261.78 L74.20,260.93 L75.20,260.08 L76.20,259.23 L77.20,258.39 L78.20,257.54 L79.20,256.69 L80.20,255.84 L81.20,255.00 L82.20,254.15 L83.20,253.30 L84.20,252.46 L85.20,251.61 L86.20,250.77 L87.20,249.93 L88.20,249.09 L89.20,248.25 L90.20,247.41 L91.20,246.58 L92.20,245.75 L93.20,244.91 L94.20,244.08 L95.20,243.26 L96.20,242.43 L97.20,241.61 L98.20,240.79 L99.20,239.97 L100.20,239.15 L101.20,238.34 L102.20,237.53 L103.20,236.72 L104.20,235.92 L105.20,235.12 L106.20,234.32 L107.20,233.53 L108.20,232.74 L109.20,231.95 L110.20,231.17 L111.20,230.39 L112.20,229.62 L113.20,228.85 L114.20,228.08 L115.20,227.32 L116.20,226.56 L117.20,225.81 L118.20,225.06 L119.20,224.32 L120.20,223.58 L121.20,222.85 L122.20,222.12 L123.20,221.39 L124.20,220.68 L125.20,219.96 L126.20,219.26 L127.20,218.56 L128.20,217.86 L129.20,217.17 L130.20,216.49 L131.20,215.81 L132.20,215.14 L133.20,214.48 L134.20,213.82 L135.20,213.17 L136.20,212.52 L137.20,211.89 L138.20,211.26 L139.20,210.63 L140.20,210.02 L141.20,209.41 L142.20,208.80 L143.20,208.21 L144.20,207.62 L145.20,207.04 L146.20,206.47 L147.20,205.91 L148.20,205.35 L149.20,204.81 L150.20,204.27 L151.20,203.74 L152.20,203.22 L153.20,202.70 L154.20,202.20 L155.20,201.70 L156.20,201.21 L157.20,200.73 L158.20,200.25 L159.20,199.79 L160.20,199.33 L161.20,198.88 L162.20,198.44 L163.20,198.00 L164.20,197.58 L165.20,197.16 L166.20,196.75 L167.20,196.34 L168.20,195.95 L169.20,195.56 L170.20,195.18 L171.20,194.80 L172.20,194.44 L173.20,194.08 L174.20,193.73 L175.20,193.38 L176.20,193.04 L177.20,192.71 L178.20,192.39 L179.20,192.07 L180.20,191.76 L181.20,191.46 L182.20,191.16 L183.20,190.87 L184.20,190.59 L185.20,190.31 L186.20,190.04 L187.20,189.78 L188.20,189.52 L189.20,189.27 L190.20,189.02 L191.20,188.79 L192.20,188.56 L193.20,188.33 L194.20,188.11 L195.20,187.90 L196.20,187.69 L197.20,187.49 L198.20,187.29 L199.20,187.11 L200.20,186.92 L201.20,186.75 L202.20,186.57 L203.20,186.41 L204.20,186.25 L205.20,186.09 L206.20,185.94 L207.20,185.80 L208.20,185.66 L209.20,185.53 L210.20,185.40 L211.20,185.28 L212.20,185.16 L213.20,185.05 L214.20,184.95 L215.20,184.84 L216.20,184.75 L217.20,184.66 L218.20,184.57 L219.20,184.49 L220.20,184.41 L221.20,184.34 L222.20,184.27 L223.20,184.21 L224.20,184.15 L225.20,184.10 L226.20,184.05 L227.20,184.01 L228.20,183.97 L229.20,183.93 L230.20,183.90 L231.20,183.88 L232.20,183.85 L233.20,183.84 L234.20,183.82 L235.20,183.81 L236.20,183.81 L237.20,183.81 L238.20,183.81 L239.20,183.81 L240.20,183.82 L241.20,183.83 L242.20,183.85 L243.20,183.87 L244.20,183.89 L245.20,183.92 L246.20,183.94 L247.20,183.98 L248.20,184.01 L249.20,184.05 L250.20,184.09 L251.20,184.13 L252.20,184.17 L253.20,184.22 L254.20,184.27 L255.20,184.32 L256.20,184.37 L257.20,184.43 L258.20,184.48 L259.20,184.54 L260.20,184.60 L261.20,184.67 L262.20,184.73 L263.20,184.79 L264.20,184.86 L265.20,184.93 L266.20,185.00 L267.20,185.07 L268.20,185.14 L269.20,185.21 L270.20,185.28 L271.20,185.36 L272.20,185.43 L273.20,185.50 L274.20,185.58 L275.20,185.65 L276.20,185.73 L277.20,185.80 L278.20,185.88 L279.20,185.95 L280.20,186.03 L281.20,186.10 L282.20,186.18 L283.20,186.25 L284.20,186.33 L285.20,186.40 L286.20,186.47 L287.20,186.54 L288.20,186.61 L289.20,186.68 L290.20,186.75 L291.20,186.82 L292.20,186.88 L293.20,186.95 L294.20,187.01 L295.20,187.07 L296.20,187.13 L297.20,187.19 L298.20,187.25 L299.20,187.30 L300.20,187.35 L301.20,187.40 L302.20,187.45 L303.20,187.50 L304.20,187.54 L305.20,187.58 L306.20,187.62 L307.20,187.65 L308.20,187.69 L309.20,187.72 L310.20,187.74 L311.20,187.77 L312.20,187.79 L313.20,187.80 L314.20,187.82 L315.20,187.83 L316.20,187.84 L317.20,187.84 L318.20,187.84 L319.20,187.84 L320.20,187.83 L321.20,187.82 L322.20,187.80 L323.20,187.78 L324.20,187.76 L325.20,187.73 L326.20,187.69 L327.20,187.66 L328.20,187.62 L329.20,187.57 L330.20,187.52 L331.20,187.47 L332.20,187.41 L333.20,187.36 L334.20,187.29 L335.20,187.23 L336.20,187.16 L337.20,187.09 L338.20,187.02 L339.20,186.94 L340.20,186.86 L341.20,186.79 L342.20,186.70 L343.20,186.62 L344.20,186.54 L345.20,186.45 L346.20,186.36 L347.20,186.28 L348.20,186.19 L349.20,186.10 L350.20,186.01 L351.20,185.92 L352.20,185.82 L353.20,185.73 L354.20,185.64 L355.20,185.55 L356.20,185.46 L357.20,185.37 L358.20,185.28 L359.20,185.19 L360.20,185.10 L361.20,185.02 L362.20,184.93 L363.20,184.85 L364.20,184.76 L365.20,184.68 L366.20,184.60 L367.20,184.52 L368.20,184.45 L369.20,184.38 L370.20,184.31 L371.20,184.24 L372.20,184.17 L373.20,184.11 L374.20,184.05 L375.20,183.99 L376.20,183.94 L377.20,183.89 L378.20,183.84 L379.20,183.80 L380.20,183.75 L381.20,183.71 L382.20,183.68 L383.20,183.65 L384.20,183.62 L385.20,183.59 L386.20,183.57 L387.20,183.55 L388.20,183.53 L389.20,183.52 L390.20,183.51 L391.20,183.50 L392.20,183.50 L393.20,183.50 L394.20,183.50 L395.20,183.51 L396.20,183.52 L397.20,183.53 L398.20,183.55 L399.20,183.57 L400.20,183.60 L401.20,183.63 L402.20,183.66 L403.20,183.70 L404.20,183.74 L405.20,183.79 L406.20,183.84 L407.20,183.89 L408.20,183.95 L409.20,184.01 L410.20,184.08 L411.20,184.15 L412.20,184.22 L413.20,184.30 L414.20,184.38 L415.20,184.47 L416.20,184.56 L417.20,184.66 L418.20,184.76 L419.20,184.87 L420.00,184.95" fill="none" stroke="#008000" stroke-width="2.3" stroke-dasharray="11.00,12.05" stroke-dashoffset="20.05"/>
<path d="M535.00,187.18 L536.00,187.34 L537.00,187.51 L538.00,187.68 L539.00,187.86 L540.00,188.05 L541.00,188.24 L542.00,188.44 L543.00,188.65 L544.00,188.87 L545.00,189.09 L546.00,189.32 L547.00,189.55 L548.00,189.79 L549.00,190.04 L550.00,190.30 L551.00,190.56 L552.00,190.83 L553.00,191.10 L554.00,191.39 L555.00,191.67 L556.00,191.97 L557.00,192.27 L558.00,192.58 L559.00,192.90 L560.00,193.22 L561.00,193.55 L562.00,193.88 L563.00,194.22 L564.00,194.57 L565.00,194.93 L566.00,195.29 L567.00,195.65 L568.00,196.03 L569.00,196.41 L570.00,196.79 L571.00,197.19 L572.00,197.59 L573.00,197.99 L574.00,198.40 L575.00,198.82 L576.00,199.25 L577.00,199.68 L578.00,200.11 L579.00,200.56 L580.00,201.01 L581.00,201.46 L582.00,201.92 L583.00,202.39 L584.00,202.87 L585.00,203.35 L586.00,203.83 L587.00,204.33 L588.00,204.82 L589.00,205.33 L590.00,205.84 L591.00,206.36 L592.00,206.88 L593.00,207.41 L594.00,207.94 L595.00,208.48 L596.00,209.03 L597.00,209.58 L598.00,210.14 L599.00,210.70 L600.00,211.27 L601.00,211.85 L602.00,212.43 L603.00,213.02 L604.00,213.61 L605.00,214.21 L606.00,214.81 L607.00,215.42 L608.00,216.04 L609.00,216.66 L610.00,217.29 L611.00,217.92 L612.00,218.56 L613.00,219.21 L614.00,219.86 L615.00,220.51 L616.00,221.17 L617.00,221.84 L618.00,222.51 L619.00,223.19 L620.00,223.87 L621.00,224.56 L622.00,225.26 L623.00,225.96 L624.00,226.66 L625.00,227.37 L626.00,228.09 L627.00,228.81 L628.00,229.54 L629.00,230.27 L630.00,231.00 L631.00,231.75 L632.00,232.50 L633.00,233.25 L634.00,234.01 L635.00,234.77 L636.00,235.54 L637.00,236.31 L638.00,237.09 L639.00,237.88 L640.00,238.67 L641.00,239.46 L642.00,240.26 L643.00,241.07 L644.00,241.88 L645.00,242.69 L646.00,243.51 L647.00,244.34 L648.00,245.17 L649.00,246.00 L650.00,246.84 L651.00,247.69 L652.00,248.54 L653.00,249.39 L654.00,250.25 L655.00,251.12 L656.00,251.99 L657.00,252.86 L658.00,253.74 L659.00,254.62 L660.00,255.51 L661.00,256.41 L662.00,257.31 L663.00,258.21 L664.00,259.12 L665.00,260.03 L666.00,260.95 L667.00,261.87 L668.00,262.80 L669.00,263.73 L670.00,264.66 L670.70,265.32" fill="none" stroke="#008000" stroke-width="2.3" stroke-dasharray="11.00,12.05" stroke-dashoffset="3.84"/>
<path d="M69.20,265.80 L70.20,264.44 L71.20,263.09 L72.20,261.75 L73.20,260.41 L74.20,259.07 L75.20,257.74 L76.20,256.42 L77.20,255.10 L78.20,253.78 L79.20,252.47 L80.20,251.16 L81.20,249.86 L82.20,248.57 L83.20,247.28 L84.20,245.99 L85.20,244.71 L86.20,243.44 L87.20,242.18 L88.20,240.92 L89.20,239.66 L90.20,238.41 L91.20,237.17 L92.20,235.94 L93.20,234.71 L94.20,233.49 L95.20,232.28 L96.20,231.07 L97.20,229.87 L98.20,228.68 L99.20,227.49 L100.20,226.31 L101.20,225.14 L102.20,223.98 L103.20,222.83 L104.20,221.68 L105.20,220.54 L106.20,219.41 L107.20,218.29 L108.20,217.18 L109.20,216.07 L110.20,214.98 L111.20,213.89 L112.20,212.81 L113.20,211.74 L114.20,210.68 L115.20,209.63 L116.20,208.58 L117.20,207.55 L118.20,206.53 L119.20,205.51 L120.20,204.51 L121.20,203.52 L122.20,202.53 L123.20,201.56 L124.20,200.59 L125.20,199.64 L126.20,198.70 L127.20,197.77 L128.20,196.84 L129.20,195.93 L130.20,195.03 L131.20,194.14 L132.20,193.27 L133.20,192.40 L134.20,191.54 L135.20,190.70 L136.20,189.87 L137.20,189.05 L138.20,188.24 L139.20,187.44 L140.20,186.66 L141.20,185.88 L142.20,185.12 L143.20,184.38 L144.20,183.64 L145.20,182.92 L146.20,182.20 L147.20,181.51 L148.20,180.82 L149.20,180.14 L150.20,179.48 L151.20,178.83 L152.20,178.19 L153.20,177.56 L154.20,176.95 L155.20,176.34 L156.20,175.75 L157.20,175.17 L158.20,174.60 L159.20,174.04 L160.20,173.50 L161.20,172.96 L162.20,172.44 L163.20,171.93 L164.20,171.43 L165.20,170.94 L166.20,170.46 L167.20,169.99 L168.20,169.54 L169.20,169.09 L170.20,168.66 L171.20,168.24 L172.20,167.83 L173.20,167.43 L174.20,167.04 L175.20,166.66 L176.20,166.29 L177.20,165.93 L178.20,165.58 L179.20,165.25 L180.20,164.92 L181.20,164.60 L182.20,164.30 L183.20,164.01 L184.20,163.72 L185.20,163.45 L186.20,163.18 L187.20,162.93 L188.20,162.68 L189.20,162.44 L190.20,162.22 L191.20,162.00 L192.20,161.78 L193.20,161.58 L194.20,161.39 L195.20,161.20 L196.20,161.02 L197.20,160.85 L198.20,160.68 L199.20,160.52 L200.20,160.37 L201.20,160.23 L202.20,160.09 L203.20,159.95 L204.20,159.83 L205.20,159.70 L206.20,159.59 L207.20,159.47 L208.20,159.37 L209.20,159.26 L210.20,159.17 L211.20,159.07 L212.20,158.98 L213.20,158.90 L214.20,158.81 L215.20,158.73 L216.20,158.66 L217.20,158.58 L218.20,158.51 L219.20,158.44 L220.20,158.38 L221.20,158.31 L222.20,158.25 L223.20,158.19 L224.20,158.13 L225.20,158.07 L226.20,158.01 L227.20,157.96 L228.20,157.90 L229.20,157.84 L230.20,157.78 L231.20,157.73 L232.20,157.67 L233.20,157.61 L234.20,157.56 L235.20,157.50 L236.20,157.44 L237.20,157.38 L238.20,157.33 L239.20,157.27 L240.20,157.21 L241.20,157.15 L242.20,157.10 L243.20,157.04 L244.20,156.98 L245.20,156.93 L246.20,156.87 L247.20,156.81 L248.20,156.76 L249.20,156.70 L250.20,156.65 L251.20,156.59 L252.20,156.54 L253.20,156.48 L254.20,156.43 L255.20,156.38 L256.20,156.32 L257.20,156.27 L258.20,156.22 L259.20,156.17 L260.20,156.12 L261.20,156.06 L262.20,156.01 L263.20,155.96 L264.20,155.92 L265.20,155.87 L266.20,155.82 L267.20,155.77 L268.20,155.73 L269.20,155.68 L270.20,155.63 L271.20,155.59 L272.20,155.55 L273.20,155.50 L274.20,155.46 L275.20,155.42 L276.20,155.38 L277.20,155.34 L278.20,155.30 L279.20,155.26 L280.20,155.23 L281.20,155.19 L282.20,155.16 L283.20,155.12 L284.20,155.09 L285.20,155.06 L286.20,155.03 L287.20,155.00 L288.20,154.97 L289.20,154.94 L290.20,154.91 L291.20,154.89 L292.20,154.86 L293.20,154.84 L294.20,154.82 L295.20,154.80 L296.20,154.78 L297.20,154.76 L298.20,154.74 L299.20,154.73 L300.20,154.71 L301.20,154.70 L302.20,154.69 L303.20,154.68 L304.20,154.67 L305.20,154.67 L306.20,154.66 L307.20,154.66 L308.20,154.65 L309.20,154.65 L310.20,154.65 L311.20,154.66 L312.20,154.66 L313.20,154.66 L314.20,154.67 L315.20,154.68 L316.20,154.69 L317.20,154.70 L318.20,154.72 L319.20,154.73 L320.20,154.75 L321.20,154.77 L322.20,154.79 L323.20,154.81 L324.20,154.84 L325.20,154.86 L326.20,154.89 L327.20,154.92 L328.20,154.95 L329.20,154.99 L330.20,155.02 L331.20,155.06 L332.20,155.10 L333.20,155.14 L334.20,155.19 L335.20,155.23 L336.20,155.28 L337.20,155.33 L338.20,155.38 L339.20,155.43 L340.20,155.49 L341.20,155.54 L342.20,155.60 L343.20,155.65 L344.20,155.71 L345.20,155.77 L346.20,155.83 L347.20,155.89 L348.20,155.95 L349.20,156.02 L350.20,156.08 L351.20,156.14 L352.20,156.20 L353.20,156.27 L354.20,156.33 L355.20,156.40 L356.20,156.46 L357.20,156.53 L358.20,156.59 L359.20,156.65 L360.20,156.72 L361.20,156.78 L362.20,156.84 L363.20,156.91 L364.20,156.97 L365.20,157.03 L366.20,157.09 L367.20,157.15 L368.20,157.21 L369.20,157.26 L370.20,157.32 L371.20,157.38 L372.20,157.43 L373.20,157.48 L374.20,157.53 L375.20,157.58 L376.20,157.63 L377.20,157.68 L378.20,157.72 L379.20,157.77 L380.20,157.81 L381.20,157.84 L382.20,157.88 L383.20,157.92 L384.20,157.95 L385.20,157.98 L386.20,158.01 L387.20,158.03 L388.20,158.05 L389.20,158.07 L390.20,158.09 L391.20,158.10 L392.20,158.12 L393.20,158.12 L394.20,158.13 L395.20,158.13 L396.20,158.13 L397.20,158.13 L398.20,158.12 L399.20,158.11 L400.20,158.09 L401.20,158.07 L402.20,158.05 L403.20,158.02 L404.20,157.99 L405.20,157.96 L406.20,157.92 L407.20,157.88 L408.20,157.83 L409.20,157.78 L410.20,157.73 L411.20,157.67 L412.20,157.60 L413.20,157.53 L414.20,157.46 L415.20,157.38 L416.20,157.30 L417.20,157.21 L418.20,157.12 L419.20,157.02 L420.00,156.93" fill="none" stroke="#0000ff" stroke-width="2.3" stroke-dasharray="11.00,12.06" stroke-dashoffset="18.40"/>
<path d="M535.00,155.45 L536.00,155.56 L537.00,155.68 L538.00,155.80 L539.00,155.95 L540.00,156.10 L541.00,156.26 L542.00,156.44 L543.00,156.63 L544.00,156.83 L545.00,157.04 L546.00,157.27 L547.00,157.50 L548.00,157.75 L549.00,158.01 L550.00,158.28 L551.00,158.56 L552.00,158.86 L553.00,159.16 L554.00,159.48 L555.00,159.81 L556.00,160.15 L557.00,160.50 L558.00,160.86 L559.00,161.23 L560.00,161.62 L561.00,162.02 L562.00,162.42 L563.00,162.84 L564.00,163.27 L565.00,163.71 L566.00,164.16 L567.00,164.63 L568.00,165.10 L569.00,165.59 L570.00,166.08 L571.00,166.59 L572.00,167.10 L573.00,167.63 L574.00,168.17 L575.00,168.72 L576.00,169.28 L577.00,169.85 L578.00,170.43 L579.00,171.02 L580.00,171.63 L581.00,172.24 L582.00,172.86 L583.00,173.49 L584.00,174.14 L585.00,174.79 L586.00,175.46 L587.00,176.13 L588.00,176.82 L589.00,177.51 L590.00,178.22 L591.00,178.93 L592.00,179.66 L593.00,180.39 L594.00,181.14 L595.00,181.89 L596.00,182.66 L597.00,183.43 L598.00,184.22 L599.00,185.01 L600.00,185.82 L601.00,186.63 L602.00,187.45 L603.00,188.29 L604.00,189.13 L605.00,189.98 L606.00,190.85 L607.00,191.72 L608.00,192.60 L609.00,193.49 L610.00,194.39 L611.00,195.30 L612.00,196.22 L613.00,197.15 L614.00,198.08 L615.00,199.03 L616.00,199.98 L617.00,200.95 L618.00,201.92 L619.00,202.91 L620.00,203.90 L621.00,204.90 L622.00,205.91 L623.00,206.93 L624.00,207.95 L625.00,208.99 L626.00,210.04 L627.00,211.09 L628.00,212.15 L629.00,213.22 L630.00,214.30 L631.00,215.39 L632.00,216.49 L633.00,217.59 L634.00,218.71 L635.00,219.83 L636.00,220.96 L637.00,222.10 L638.00,223.25 L639.00,224.41 L640.00,225.57 L641.00,226.74 L642.00,227.92 L643.00,229.11 L644.00,230.31 L645.00,231.51 L646.00,232.73 L647.00,233.95 L648.00,235.18 L649.00,236.41 L650.00,237.66 L651.00,238.91 L652.00,240.17 L653.00,241.44 L654.00,242.72 L655.00,244.00 L656.00,245.29 L657.00,246.59 L658.00,247.90 L659.00,249.21 L660.00,250.54 L661.00,251.87 L662.00,253.20 L663.00,254.55 L664.00,255.90 L665.00,257.26 L666.00,258.62 L667.00,260.00 L668.00,261.38 L669.00,262.77 L670.00,264.16 L670.70,265.14" fill="none" stroke="#0000ff" stroke-width="2.3" stroke-dasharray="11.00,12.06" stroke-dashoffset="21.16"/>
</g>
<rect x="408.3" y="13" width="139.2" height="249" fill="#fff"/>
<line x1="424.2" y1="30.3" x2="503" y2="30.3" stroke="#0000ff" stroke-width="2.3" stroke-dasharray="11.2,11.8"/>
<text x="510" y="38.1" font-size="23">LA</text>
<line x1="424.2" y1="57.0" x2="503" y2="57.0" stroke="#008000" stroke-width="2.3" stroke-dasharray="11.2,11.8"/>
<text x="510" y="64.8" font-size="23">TA</text>
<line x1="424.2" y1="83.7" x2="503" y2="83.7" stroke="#ff0000" stroke-width="2.3" stroke-dasharray="11.2,11.8"/>
<text x="510" y="91.5" font-size="23">ZA</text>
<line x1="424.2" y1="110.3" x2="503" y2="110.3" stroke="#00bfbf" stroke-width="2.3"/>
<text x="510" y="118.1" font-size="23">TO</text>
<line x1="424.2" y1="137.0" x2="503" y2="137.0" stroke="#bf00bf" stroke-width="2.3"/>
<text x="510" y="144.8" font-size="23">TO</text>
<line x1="424.2" y1="163.7" x2="503" y2="163.7" stroke="#bfbf00" stroke-width="2.3"/>
<text x="510" y="171.5" font-size="23">LO</text>
<line x1="424.2" y1="190.4" x2="503" y2="190.4" stroke="#404040" stroke-width="2.3"/>
<text x="510" y="198.2" font-size="23">LO</text>
<line x1="424.2" y1="217.1" x2="503" y2="217.1" stroke="#0000ff" stroke-width="2.3"/>
<text x="510" y="224.9" font-size="23">ZO</text>
<line x1="424.2" y1="243.7" x2="503" y2="243.7" stroke="#008000" stroke-width="2.3"/>
<text x="510" y="251.5" font-size="23">ZO</text>
<g clip-path="url(#cb)">
<path d="M69.20,357.82 L70.20,357.85 L71.20,357.88 L72.20,357.91 L73.20,357.93 L74.20,357.94 L75.20,357.95 L76.20,357.96 L77.20,357.97 L78.20,357.97 L79.20,357.97 L80.20,357.97 L81.20,357.96 L82.20,357.95 L83.20,357.94 L84.20,357.92 L85.20,357.91 L86.20,357.89 L87.20,357.87 L88.20,357.84 L89.20,357.82 L90.20,357.79 L91.20,357.76 L92.20,357.73 L93.20,357.70 L94.20,357.67 L95.20,357.64 L96.20,357.61 L97.20,357.57 L98.20,357.54 L99.20,357.50 L100.20,357.47 L101.20,357.43 L102.20,357.40 L103.20,357.36 L104.20,357.33 L105.20,357.29 L106.20,357.26 L107.20,357.23 L108.20,357.20 L109.20,357.17 L110.20,357.14 L111.20,357.11 L112.20,357.08 L113.20,357.06 L114.20,357.03 L115.20,357.01 L116.20,356.99 L117.20,356.98 L118.20,356.96 L119.20,356.95 L120.20,356.94 L121.20,356.93 L122.20,356.93 L123.20,356.93 L124.20,356.93 L125.20,356.93 L126.20,356.94 L127.20,356.95 L128.20,356.97 L129.20,356.99 L130.20,357.01 L131.20,357.04 L132.20,357.07 L133.20,357.11 L134.20,357.15 L135.20,357.20 L136.20,357.25 L137.20,357.30 L138.20,357.37 L139.20,357.43 L140.20,357.50 L141.20,357.58 L142.20,357.66 L143.20,357.75 L144.20,357.85 L145.20,357.95 L146.20,358.06 L147.20,358.17 L148.20,358.29 L149.20,358.42 L150.20,358.55 L151.20,358.69 L152.20,358.84 L153.20,358.99 L154.20,359.16 L155.20,359.33 L156.20,359.50 L157.20,359.69 L158.20,359.88 L159.20,360.08 L160.20,360.29 L161.20,360.51 L162.20,360.74 L163.20,360.97 L164.20,361.22 L165.20,361.47 L166.20,361.73 L167.20,362.00 L168.20,362.28 L169.20,362.57 L170.20,362.87 L171.20,363.18 L172.20,363.50 L173.20,363.83 L174.20,364.17 L175.20,364.52 L176.20,364.88 L177.20,365.25 L178.20,365.63 L179.20,366.03 L180.20,366.43 L181.20,366.85 L182.20,367.27 L183.20,367.71 L184.20,368.16 L185.20,368.62 L186.20,369.09 L187.20,369.58 L188.20,370.08 L189.20,370.59 L190.20,371.11 L191.20,371.64 L192.20,372.19 L193.20,372.75 L194.20,373.32 L195.20,373.91 L196.20,374.51 L197.20,375.12 L198.20,375.75 L199.20,376.39 L200.20,377.05 L201.20,377.71 L202.20,378.40 L203.20,379.09 L204.20,379.80 L205.20,380.53 L206.20,381.27 L207.20,382.03 L208.20,382.80 L209.20,383.58 L210.20,384.38 L211.20,385.20 L212.20,386.03 L213.20,386.88 L214.20,387.74 L215.20,388.62 L216.20,389.52 L217.20,390.43 L218.20,391.36 L219.20,392.30 L220.20,393.26 L221.20,394.24 L222.20,395.24 L223.20,396.25 L224.20,397.28 L225.20,398.33 L226.20,399.39 L227.20,400.47 L228.20,401.57 L229.20,402.69 L229.50,403.03 L230.50,402.74 L231.50,403.03 L232.50,403.30 L233.50,403.57 L234.50,403.83 L235.50,404.07 L236.50,404.30 L237.50,404.53 L238.50,404.74 L239.50,404.95 L240.50,405.14 L241.50,405.33 L242.50,405.50 L243.50,405.67 L244.50,405.82 L245.50,405.97 L246.50,406.11 L247.50,406.24 L248.50,406.36 L249.50,406.47 L250.50,406.58 L251.50,406.67 L252.50,406.76 L253.50,406.84 L254.50,406.91 L255.50,406.98 L256.50,407.04 L257.50,407.08 L258.50,407.13 L259.50,407.16 L260.50,407.19 L261.50,407.21 L262.50,407.22 L263.50,407.23 L264.50,407.23 L265.50,407.23 L266.50,407.22 L267.50,407.20 L268.50,407.18 L269.50,407.15 L270.50,407.11 L271.50,407.07 L272.50,407.03 L273.50,406.97 L274.50,406.92 L275.50,406.86 L276.50,406.79 L277.50,406.72 L278.50,406.65 L279.50,406.57 L280.50,406.48 L281.50,406.39 L282.50,406.30 L283.50,406.21 L284.50,406.11 L285.50,406.00 L286.50,405.90 L287.50,405.79 L288.50,405.68 L289.50,405.56 L290.50,405.44 L291.50,405.32 L292.50,405.19 L293.50,405.07 L294.50,404.94 L295.50,404.81 L296.50,404.67 L297.50,404.54 L298.50,404.40 L299.50,404.26 L300.50,404.12 L301.50,403.98 L302.50,403.84 L303.50,403.70 L304.50,403.55 L305.50,403.40 L306.50,403.26 L307.50,403.11 L308.50,402.96 L309.50,402.82 L310.50,402.67 L311.50,402.52 L312.50,402.37 L313.50,402.23 L314.50,402.08 L315.50,401.93 L316.50,401.79 L317.50,401.64 L318.50,401.50 L319.50,401.36 L320.50,401.21 L321.50,401.07 L322.50,400.94 L323.50,400.80 L324.50,400.66 L325.50,400.53 L326.50,400.40 L327.50,400.27 L328.50,400.14 L329.50,400.02 L330.50,399.90 L331.50,399.78 L332.50,399.66 L333.50,399.55 L334.50,399.44 L335.50,399.34 L336.50,399.23 L337.50,399.13 L338.50,399.04 L339.50,398.95 L340.50,398.86 L341.50,398.77 L342.50,398.69 L343.50,398.62 L344.50,398.55 L345.50,398.48 L346.50,398.42 L347.50,398.37 L348.50,398.32 L349.50,398.27 L350.50,398.23 L351.50,398.20 L352.50,398.17 L353.50,398.14 L354.50,398.13 L355.50,398.12 L356.50,398.11 L357.50,398.11 L358.50,398.12 L359.50,398.13 L360.50,398.16 L361.50,398.18 L362.50,398.22 L363.50,398.26 L364.50,398.31 L365.50,398.37 L366.50,398.43 L367.50,398.50 L368.50,398.58 L369.50,398.67 L370.50,398.77 L371.50,398.87 L372.50,398.99 L373.50,399.11 L374.50,399.24 L375.50,399.38 L376.50,399.52 L377.50,399.68 L378.50,399.85 L379.50,400.02 L380.50,400.21 L381.50,400.40 L382.50,400.61 L383.50,400.82 L384.50,401.05 L385.50,401.28 L386.50,401.53 L387.50,401.78 L388.50,402.05 L389.50,402.33 L390.50,402.61 L391.50,402.91 L392.30,403.16 L393.30,402.58 L394.30,402.50 L395.30,402.41 L396.30,402.32 L397.30,402.22 L398.30,402.12 L399.30,402.01 L400.30,401.90 L401.30,401.79 L402.30,401.67 L403.30,401.55 L404.30,401.42 L405.30,401.29 L406.30,401.16 L407.30,401.03 L408.30,400.89 L409.30,400.75 L410.30,400.61 L411.30,400.46 L412.30,400.31 L413.30,400.16 L414.30,400.01 L415.30,399.86 L416.30,399.70 L417.30,399.55 L418.30,399.39 L419.30,399.23 L420.30,399.07 L421.30,398.91 L422.30,398.75 L423.30,398.59 L424.30,398.43 L425.30,398.27 L426.30,398.11 L427.30,397.95 L428.30,397.78 L429.30,397.62 L430.30,397.46 L431.30,397.30 L432.30,397.15 L433.30,396.99 L434.30,396.83 L435.30,396.68 L436.30,396.53 L437.30,396.38 L438.30,396.23 L439.30,396.08 L440.30,395.93 L441.30,395.79 L442.30,395.66 L443.30,395.53 L444.30,395.40 L445.30,395.28 L446.30,395.16 L447.30,395.06 L448.30,394.96 L449.30,394.87 L450.30,394.79 L451.30,394.72 L452.30,394.66 L453.30,394.61 L454.30,394.57 L455.30,394.54 L456.30,394.53 L457.30,394.53 L458.30,394.55 L459.30,394.58 L460.30,394.63 L461.30,394.69 L462.30,394.77 L463.30,394.87 L464.30,394.99 L465.30,395.12 L466.30,395.28 L467.30,395.45 L468.30,395.65 L469.30,395.87 L470.30,396.11 L471.30,396.37 L472.30,396.65 L473.30,396.97 L474.30,397.30 L475.30,397.66 L476.30,398.05 L477.30,398.46 L478.30,398.89 L479.30,399.35 L480.30,399.83 L481.30,400.33 L482.30,400.86 L483.30,401.41 L484.30,401.97 L485.30,402.56 L486.30,403.17 L487.30,403.79 L488.30,404.44 L489.30,405.10 L490.30,405.78 L491.30,406.47 L492.30,407.19 L493.30,407.91 L494.30,408.66 L495.30,409.41 L496.30,410.19 L497.30,410.97 L498.30,411.77 L499.30,412.58 L500.30,413.40 L501.30,414.24 L502.30,415.08 L503.30,415.94 L504.30,416.80 L505.30,417.67 L506.30,418.56 L507.30,419.45 L508.30,420.34 L509.30,421.25 L510.30,422.16 L511.30,423.07 L512.30,423.99 L513.30,424.92 L514.30,425.85 L515.30,426.78 L516.30,427.72 L517.30,428.65 L518.30,429.59 L519.30,430.54 L520.30,431.48 L521.30,432.42 L522.30,433.36 L523.30,434.30 L524.30,435.24 L525.30,436.18 L526.30,437.11 L527.30,438.04 L528.30,438.97 L529.30,439.89 L530.30,440.81 L531.30,441.73 L532.30,442.63 L533.30,443.53 L534.30,444.43 L535.30,445.31 L536.30,446.19 L537.30,447.06 L538.30,447.93 L539.30,448.78 L540.30,449.63 L541.30,450.47 L542.30,451.31 L543.30,452.13 L544.30,452.95 L545.30,453.76 L546.30,454.56 L547.30,455.35 L548.30,456.13 L549.30,456.90 L550.30,457.66 L551.30,458.42 L552.30,459.16 L553.30,459.90 L554.30,460.63 L555.30,461.34 L556.30,462.05 L557.30,462.75 L558.30,463.44 L559.30,464.11 L560.30,464.78 L561.30,465.43 L562.30,466.08 L563.30,466.72 L564.30,467.34 L565.30,467.95 L566.30,468.56 L567.30,469.15 L568.30,469.73 L569.30,470.29 L570.30,470.85 L571.30,471.40 L572.30,471.93 L573.30,472.45 L574.30,472.96 L575.30,473.46 L576.30,473.94 L577.30,474.41 L578.30,474.87 L579.30,475.32 L580.30,475.76 L581.30,476.18 L582.30,476.59 L583.30,476.98 L584.30,477.36 L585.30,477.73 L586.30,478.09 L587.30,478.43 L588.30,478.76 L589.30,479.07 L590.30,479.37 L591.30,479.65 L592.30,479.93 L593.30,480.18 L594.30,480.42 L595.30,480.65 L596.30,480.87 L597.30,481.07 L598.30,481.25 L599.30,481.42 L600.30,481.58 L601.30,481.73 L602.30,481.87 L603.30,481.99 L604.30,482.10 L605.30,482.20 L606.30,482.29 L607.30,482.37 L608.30,482.44 L609.30,482.50 L610.30,482.55 L611.30,482.59 L612.30,482.62 L613.30,482.64 L614.30,482.66 L615.30,482.66 L616.30,482.66 L617.30,482.65 L618.30,482.64 L619.30,482.62 L620.30,482.59 L621.30,482.55 L622.30,482.51 L623.30,482.47 L624.30,482.42 L625.30,482.36 L626.30,482.30 L627.30,482.24 L628.30,482.17 L629.30,482.10 L630.30,482.03 L631.30,481.95 L632.30,481.87 L633.30,481.79 L634.30,481.71 L635.30,481.62 L636.30,481.54 L637.30,481.45 L638.30,481.36 L639.30,481.28 L640.30,481.19 L641.30,481.11 L642.30,481.02 L643.30,480.94 L644.30,480.85 L645.30,480.77 L646.30,480.70 L647.30,480.62 L648.30,480.55 L649.30,480.48 L650.30,480.41 L651.30,480.35 L652.30,480.29 L653.30,480.24 L654.30,480.19 L655.30,480.14 L656.30,480.10 L657.30,480.07 L658.30,480.04 L659.30,480.02 L660.30,480.01 L661.30,480.00 L662.30,480.00 L663.30,480.01 L664.30,480.03 L665.30,480.05 L666.30,480.09 L667.30,480.13 L668.30,480.18 L669.30,480.24 L670.30,480.32 L670.70,480.35" fill="none" stroke="#ff0000" stroke-width="2.3" stroke-dasharray="11.50,7.37,1.60,7.37" stroke-dashoffset="15.56"/>
<path d="M69.20,347.20 L70.20,347.32 L71.20,347.44 L72.20,347.56 L73.20,347.69 L74.20,347.83 L75.20,347.97 L76.20,348.11 L77.20,348.26 L78.20,348.42 L79.20,348.58 L80.20,348.74 L81.20,348.91 L82.20,349.08 L83.20,349.26 L84.20,349.44 L85.20,349.63 L86.20,349.82 L87.20,350.02 L88.20,350.22 L89.20,350.42 L90.20,350.63 L91.20,350.84 L92.20,351.06 L93.20,351.28 L94.20,351.51 L95.20,351.74 L96.20,351.97 L97.20,352.21 L98.20,352.45 L99.20,352.70 L100.20,352.94 L101.20,353.20 L102.20,353.46 L103.20,353.72 L104.20,353.98 L105.20,354.25 L106.20,354.52 L107.20,354.80 L108.20,355.08 L109.20,355.36 L110.20,355.65 L111.20,355.93 L112.20,356.23 L113.20,356.52 L114.20,356.82 L115.20,357.13 L116.20,357.43 L117.20,357.74 L118.20,358.05 L119.20,358.37 L120.20,358.69 L121.20,359.01 L122.20,359.33 L123.20,359.66 L124.20,359.99 L125.20,360.32 L126.20,360.66 L127.20,361.00 L128.20,361.34 L129.20,361.68 L130.20,362.03 L131.20,362.38 L132.20,362.73 L133.20,363.08 L134.20,363.44 L135.20,363.80 L136.20,364.16 L137.20,364.52 L138.20,364.89 L139.20,365.26 L140.20,365.63 L141.20,366.00 L142.20,366.38 L143.20,366.75 L144.20,367.13 L145.20,367.51 L146.20,367.89 L147.20,368.28 L148.20,368.66 L149.20,369.05 L150.20,369.44 L151.20,369.83 L152.20,370.23 L153.20,370.62 L154.20,371.02 L155.20,371.42 L156.20,371.82 L157.20,372.22 L158.20,372.62 L159.20,373.02 L160.20,373.43 L161.20,373.84 L162.20,374.24 L163.20,374.65 L164.20,375.06 L165.20,375.48 L166.20,375.89 L167.20,376.30 L168.20,376.72 L169.20,377.13 L170.20,377.55 L171.20,377.97 L172.20,378.38 L173.20,378.80 L174.20,379.22 L175.20,379.64 L176.20,380.06 L177.20,380.49 L178.20,380.91 L179.20,381.33 L180.20,381.75 L181.20,382.18 L182.20,382.60 L183.20,383.03 L184.20,383.45 L185.20,383.88 L186.20,384.30 L187.20,384.73 L188.20,385.16 L189.20,385.58 L190.20,386.01 L191.20,386.43 L192.20,386.86 L193.20,387.29 L194.20,387.71 L195.20,388.14 L196.20,388.56 L197.20,388.99 L198.20,389.41 L199.20,389.84 L200.20,390.26 L201.20,390.69 L202.20,391.11 L203.20,391.54 L204.20,391.96 L205.20,392.38 L206.20,392.80 L207.20,393.22 L208.20,393.64 L209.20,394.06 L210.20,394.48 L211.20,394.90 L212.20,395.32 L213.20,395.73 L214.20,396.15 L215.20,396.56 L216.20,396.98 L217.20,397.39 L218.20,397.80 L219.20,398.21 L220.20,398.62 L221.20,399.03 L222.20,399.43 L223.20,399.84 L224.20,400.24 L225.20,400.65 L226.20,401.05 L227.20,401.45 L228.20,401.84 L229.20,402.24 L229.50,402.36 L230.50,402.76 L231.50,403.04 L232.50,403.32 L233.50,403.59 L234.50,403.84 L235.50,404.09 L236.50,404.32 L237.50,404.54 L238.50,404.76 L239.50,404.96 L240.50,405.16 L241.50,405.34 L242.50,405.52 L243.50,405.68 L244.50,405.84 L245.50,405.99 L246.50,406.12 L247.50,406.25 L248.50,406.37 L249.50,406.49 L250.50,406.59 L251.50,406.68 L252.50,406.77 L253.50,406.85 L254.50,406.92 L255.50,406.99 L256.50,407.04 L257.50,407.09 L258.50,407.13 L259.50,407.16 L260.50,407.19 L261.50,407.21 L262.50,407.22 L263.50,407.23 L264.50,407.23 L265.50,407.22 L266.50,407.21 L267.50,407.19 L268.50,407.17 L269.50,407.14 L270.50,407.10 L271.50,407.06 L272.50,407.01 L273.50,406.96 L274.50,406.90 L275.50,406.84 L276.50,406.77 L277.50,406.70 L278.50,406.62 L279.50,406.54 L280.50,406.46 L281.50,406.37 L282.50,406.28 L283.50,406.18 L284.50,406.08 L285.50,405.97 L286.50,405.87 L287.50,405.75 L288.50,405.64 L289.50,405.52 L290.50,405.40 L291.50,405.28 L292.50,405.15 L293.50,405.02 L294.50,404.89 L295.50,404.76 L296.50,404.63 L297.50,404.49 L298.50,404.35 L299.50,404.21 L300.50,404.07 L301.50,403.93 L302.50,403.78 L303.50,403.64 L304.50,403.49 L305.50,403.34 L306.50,403.19 L307.50,403.05 L308.50,402.90 L309.50,402.75 L310.50,402.60 L311.50,402.45 L312.50,402.30 L313.50,402.15 L314.50,402.00 L315.50,401.86 L316.50,401.71 L317.50,401.56 L318.50,401.42 L319.50,401.27 L320.50,401.13 L321.50,400.99 L322.50,400.85 L323.50,400.71 L324.50,400.58 L325.50,400.44 L326.50,400.31 L327.50,400.18 L328.50,400.05 L329.50,399.93 L330.50,399.80 L331.50,399.69 L332.50,399.57 L333.50,399.45 L334.50,399.34 L335.50,399.24 L336.50,399.13 L337.50,399.03 L338.50,398.94 L339.50,398.85 L340.50,398.76 L341.50,398.67 L342.50,398.59 L343.50,398.52 L344.50,398.45 L345.50,398.38 L346.50,398.32 L347.50,398.26 L348.50,398.21 L349.50,398.17 L350.50,398.13 L351.50,398.09 L352.50,398.06 L353.50,398.04 L354.50,398.02 L355.50,398.01 L356.50,398.01 L357.50,398.01 L358.50,398.02 L359.50,398.03 L360.50,398.06 L361.50,398.08 L362.50,398.12 L363.50,398.16 L364.50,398.21 L365.50,398.27 L366.50,398.34 L367.50,398.41 L368.50,398.49 L369.50,398.58 L370.50,398.68 L371.50,398.79 L372.50,398.90 L373.50,399.02 L374.50,399.15 L375.50,399.29 L376.50,399.44 L377.50,399.60 L378.50,399.77 L379.50,399.95 L380.50,400.14 L381.50,400.33 L382.50,400.54 L383.50,400.76 L384.50,400.98 L385.50,401.22 L386.50,401.47 L387.50,401.73 L388.50,402.00 L389.50,402.28 L390.50,402.57 L391.50,402.87 L392.30,403.12 L393.30,403.79 L394.30,404.05 L395.30,404.30 L396.30,404.54 L397.30,404.76 L398.30,404.96 L399.30,405.15 L400.30,405.33 L401.30,405.50 L402.30,405.65 L403.30,405.79 L404.30,405.91 L405.30,406.03 L406.30,406.13 L407.30,406.22 L408.30,406.30 L409.30,406.37 L410.30,406.43 L411.30,406.47 L412.30,406.51 L413.30,406.54 L414.30,406.56 L415.30,406.57 L416.30,406.57 L417.30,406.56 L418.30,406.54 L419.30,406.52 L420.30,406.49 L421.30,406.45 L422.30,406.40 L423.30,406.35 L424.30,406.29 L425.30,406.23 L426.30,406.15 L427.30,406.08 L428.30,406.00 L429.30,405.91 L430.30,405.82 L431.30,405.73 L432.30,405.63 L433.30,405.52 L434.30,405.42 L435.30,405.31 L436.30,405.20 L437.30,405.09 L438.30,404.97 L439.30,404.85 L440.30,404.73 L441.30,404.61 L442.30,404.49 L443.30,404.37 L444.30,404.25 L445.30,404.13 L446.30,404.01 L447.30,403.89 L448.30,403.77 L449.30,403.65 L450.30,403.53 L451.30,403.42 L452.30,403.30 L453.30,403.19 L454.30,403.09 L455.30,402.98 L456.30,402.88 L457.30,402.79 L458.30,402.69 L459.30,402.60 L460.30,402.52 L461.30,402.44 L462.30,402.37 L463.30,402.30 L464.30,402.24 L465.30,402.18 L466.30,402.13 L467.30,402.09 L468.30,402.06 L469.30,402.03 L470.30,402.01 L471.30,402.00 L472.30,401.99 L473.30,402.00 L474.30,402.01 L475.30,402.03 L476.30,402.07 L477.30,402.11 L478.30,402.16 L479.30,402.22 L480.30,402.29 L481.30,402.37 L482.30,402.45 L483.30,402.55 L484.30,402.66 L485.30,402.77 L486.30,402.90 L487.30,403.03 L488.30,403.17 L489.30,403.32 L490.30,403.48 L491.30,403.65 L492.30,403.83 L493.30,404.02 L494.30,404.22 L495.30,404.42 L496.30,404.64 L497.30,404.86 L498.30,405.09 L499.30,405.33 L500.30,405.58 L501.30,405.84 L502.30,406.11 L503.30,406.38 L504.30,406.67 L505.30,406.96 L506.30,407.26 L507.30,407.57 L508.30,407.89 L509.30,408.22 L510.30,408.56 L511.30,408.90 L512.30,409.26 L513.30,409.62 L514.30,409.99 L515.30,410.37 L516.30,410.76 L517.30,411.15 L518.30,411.56 L519.30,411.97 L520.30,412.39 L521.30,412.82 L522.30,413.26 L523.30,413.71 L524.30,414.16 L525.30,414.63 L526.30,415.10 L527.30,415.58 L528.30,416.07 L529.30,416.56 L530.30,417.07 L531.30,417.58 L532.30,418.10 L533.30,418.63 L534.30,419.17 L535.30,419.71 L536.30,420.27 L537.30,420.83 L538.30,421.40 L539.30,421.98 L540.30,422.56 L541.30,423.16 L542.30,423.76 L543.30,424.36 L544.30,424.98 L545.30,425.60 L546.30,426.23 L547.30,426.87 L548.30,427.51 L549.30,428.16 L550.30,428.82 L551.30,429.48 L552.30,430.15 L553.30,430.82 L554.30,431.50 L555.30,432.18 L556.30,432.87 L557.30,433.56 L558.30,434.26 L559.30,434.96 L560.30,435.66 L561.30,436.37 L562.30,437.09 L563.30,437.80 L564.30,438.52 L565.30,439.25 L566.30,439.97 L567.30,440.70 L568.30,441.43 L569.30,442.17 L570.30,442.90 L571.30,443.64 L572.30,444.38 L573.30,445.12 L574.30,445.86 L575.30,446.61 L576.30,447.35 L577.30,448.10 L578.30,448.84 L579.30,449.59 L580.30,450.34 L581.30,451.08 L582.30,451.83 L583.30,452.58 L584.30,453.32 L585.30,454.07 L586.30,454.81 L587.30,455.55 L588.30,456.29 L589.30,457.03 L590.30,457.77 L591.30,458.51 L592.30,459.24 L593.30,459.97 L594.30,460.70 L595.30,461.43 L596.30,462.15 L597.30,462.87 L598.30,463.59 L599.30,464.30 L600.30,465.01 L601.30,465.71 L602.30,466.41 L603.30,467.11 L604.30,467.80 L605.30,468.49 L606.30,469.17 L607.30,469.85 L608.30,470.52 L609.30,471.19 L610.30,471.85 L611.30,472.51 L612.30,473.16 L613.30,473.81 L614.30,474.45 L615.30,475.09 L616.30,475.72 L617.30,476.35 L618.30,476.97 L619.30,477.58 L620.30,478.19 L621.30,478.80 L622.30,479.40 L623.30,479.99 L624.30,480.58 L625.30,481.16 L626.30,481.74 L627.30,482.31 L628.30,482.87 L629.30,483.43 L630.30,483.99 L631.30,484.53 L632.30,485.07 L633.30,485.61 L634.30,486.14 L635.30,486.66 L636.30,487.18 L637.30,487.69 L638.30,488.19 L639.30,488.69 L640.30,489.19 L641.30,489.67 L642.30,490.15 L643.30,490.62 L644.30,491.09 L645.30,491.55 L646.30,492.00 L647.30,492.45 L648.30,492.89 L649.30,493.33 L650.30,493.75 L651.30,494.17 L652.30,494.59 L653.30,494.99 L654.30,495.39 L655.30,495.78 L656.30,496.17 L657.30,496.55 L658.30,496.92 L659.30,497.29 L660.30,497.64 L661.30,497.99 L662.30,498.34 L663.30,498.67 L664.30,499.00 L665.30,499.32 L666.30,499.64 L667.30,499.94 L668.30,500.24 L669.30,500.53 L670.30,500.82 L670.70,500.93" fill="none" stroke="#008000" stroke-width="2.3" stroke-dasharray="11.00,11.96" stroke-dashoffset="19.02"/>
<path d="M69.20,347.20 L70.20,347.32 L71.20,347.44 L72.20,347.56 L73.20,347.69 L74.20,347.83 L75.20,347.97" fill="none" stroke="#008000" stroke-width="2.3" stroke-linejoin="round"/>
<path d="M69.20,320.79 L70.20,320.92 L71.20,321.07 L72.20,321.23 L73.20,321.40 L74.20,321.58 L75.20,321.78 L76.20,321.98 L77.20,322.20 L78.20,322.43 L79.20,322.67 L80.20,322.92 L81.20,323.18 L82.20,323.46 L83.20,323.74 L84.20,324.04 L85.20,324.34 L86.20,324.66 L87.20,324.99 L88.20,325.33 L89.20,325.67 L90.20,326.03 L91.20,326.40 L92.20,326.77 L93.20,327.16 L94.20,327.56 L95.20,327.96 L96.20,328.38 L97.20,328.80 L98.20,329.24 L99.20,329.68 L100.20,330.13 L101.20,330.59 L102.20,331.06 L103.20,331.54 L104.20,332.02 L105.20,332.52 L106.20,333.02 L107.20,333.53 L108.20,334.05 L109.20,334.57 L110.20,335.11 L111.20,335.65 L112.20,336.20 L113.20,336.75 L114.20,337.32 L115.20,337.89 L116.20,338.47 L117.20,339.05 L118.20,339.64 L119.20,340.24 L120.20,340.84 L121.20,341.45 L122.20,342.07 L123.20,342.69 L124.20,343.32 L125.20,343.96 L126.20,344.60 L127.20,345.25 L128.20,345.90 L129.20,346.56 L130.20,347.22 L131.20,347.89 L132.20,348.56 L133.20,349.24 L134.20,349.93 L135.20,350.61 L136.20,351.31 L137.20,352.01 L138.20,352.71 L139.20,353.41 L140.20,354.13 L141.20,354.84 L142.20,355.56 L143.20,356.28 L144.20,357.01 L145.20,357.74 L146.20,358.47 L147.20,359.21 L148.20,359.95 L149.20,360.69 L150.20,361.44 L151.20,362.19 L152.20,362.94 L153.20,363.70 L154.20,364.45 L155.20,365.21 L156.20,365.97 L157.20,366.74 L158.20,367.50 L159.20,368.27 L160.20,369.03 L161.20,369.79 L162.20,370.56 L163.20,371.32 L164.20,372.07 L165.20,372.83 L166.20,373.58 L167.20,374.32 L168.20,375.07 L169.20,375.80 L170.20,376.53 L171.20,377.26 L172.20,377.98 L173.20,378.69 L174.20,379.39 L175.20,380.08 L176.20,380.77 L177.20,381.44 L178.20,382.11 L179.20,382.76 L180.20,383.40 L181.20,384.03 L182.20,384.65 L183.20,385.26 L184.20,385.85 L185.20,386.43 L186.20,387.00 L187.20,387.55 L188.20,388.09 L189.20,388.61 L190.20,389.13 L191.20,389.63 L192.20,390.12 L193.20,390.59 L194.20,391.06 L195.20,391.51 L196.20,391.96 L197.20,392.39 L198.20,392.82 L199.20,393.23 L200.20,393.63 L201.20,394.03 L202.20,394.41 L203.20,394.78 L204.20,395.15 L205.20,395.51 L206.20,395.86 L207.20,396.20 L208.20,396.53 L209.20,396.86 L210.20,397.18 L211.20,397.49 L212.20,397.80 L213.20,398.09 L214.20,398.39 L215.20,398.67 L216.20,398.95 L217.20,399.23 L218.20,399.50 L219.20,399.77 L220.20,400.03 L221.20,400.28 L222.20,400.54 L223.20,400.78 L224.20,401.03 L225.20,401.27 L226.20,401.51 L227.20,401.75 L228.20,401.98 L229.20,402.21 L229.50,402.28 L230.50,402.17 L231.50,401.87 L232.50,401.58 L233.50,401.30 L234.50,401.04 L235.50,400.78 L236.50,400.54 L237.50,400.31 L238.50,400.09 L239.50,399.87 L240.50,399.67 L241.50,399.48 L242.50,399.30 L243.50,399.13 L244.50,398.97 L245.50,398.82 L246.50,398.68 L247.50,398.55 L248.50,398.42 L249.50,398.31 L250.50,398.21 L251.50,398.11 L252.50,398.02 L253.50,397.94 L254.50,397.87 L255.50,397.81 L256.50,397.76 L257.50,397.71 L258.50,397.67 L259.50,397.64 L260.50,397.62 L261.50,397.60 L262.50,397.59 L263.50,397.59 L264.50,397.60 L265.50,397.61 L266.50,397.63 L267.50,397.65 L268.50,397.69 L269.50,397.72 L270.50,397.77 L271.50,397.82 L272.50,397.87 L273.50,397.93 L274.50,398.00 L275.50,398.07 L276.50,398.15 L277.50,398.23 L278.50,398.31 L279.50,398.40 L280.50,398.50 L281.50,398.60 L282.50,398.70 L283.50,398.81 L284.50,398.92 L285.50,399.04 L286.50,399.16 L287.50,399.28 L288.50,399.41 L289.50,399.54 L290.50,399.67 L291.50,399.80 L292.50,399.94 L293.50,400.08 L294.50,400.23 L295.50,400.37 L296.50,400.52 L297.50,400.67 L298.50,400.82 L299.50,400.97 L300.50,401.13 L301.50,401.28 L302.50,401.44 L303.50,401.60 L304.50,401.76 L305.50,401.92 L306.50,402.08 L307.50,402.24 L308.50,402.40 L309.50,402.57 L310.50,402.73 L311.50,402.89 L312.50,403.05 L313.50,403.21 L314.50,403.38 L315.50,403.54 L316.50,403.70 L317.50,403.85 L318.50,404.01 L319.50,404.17 L320.50,404.32 L321.50,404.48 L322.50,404.63 L323.50,404.78 L324.50,404.93 L325.50,405.07 L326.50,405.21 L327.50,405.36 L328.50,405.49 L329.50,405.63 L330.50,405.76 L331.50,405.89 L332.50,406.02 L333.50,406.14 L334.50,406.26 L335.50,406.38 L336.50,406.49 L337.50,406.60 L338.50,406.70 L339.50,406.80 L340.50,406.90 L341.50,406.99 L342.50,407.08 L343.50,407.16 L344.50,407.23 L345.50,407.31 L346.50,407.37 L347.50,407.43 L348.50,407.49 L349.50,407.54 L350.50,407.58 L351.50,407.62 L352.50,407.65 L353.50,407.68 L354.50,407.70 L355.50,407.71 L356.50,407.72 L357.50,407.72 L358.50,407.71 L359.50,407.69 L360.50,407.67 L361.50,407.64 L362.50,407.60 L363.50,407.56 L364.50,407.51 L365.50,407.44 L366.50,407.37 L367.50,407.30 L368.50,407.21 L369.50,407.12 L370.50,407.01 L371.50,406.90 L372.50,406.78 L373.50,406.65 L374.50,406.51 L375.50,406.36 L376.50,406.20 L377.50,406.03 L378.50,405.85 L379.50,405.66 L380.50,405.46 L381.50,405.25 L382.50,405.03 L383.50,404.79 L384.50,404.55 L385.50,404.30 L386.50,404.03 L387.50,403.76 L388.50,403.47 L389.50,403.17 L390.50,402.86 L391.50,402.54 L392.30,402.27 L393.30,402.40 L394.30,401.74 L395.30,401.09 L396.30,400.44 L397.30,399.79 L398.30,399.16 L399.30,398.53 L400.30,397.91 L401.30,397.30 L402.30,396.69 L403.30,396.10 L404.30,395.53 L405.30,394.96 L406.30,394.41 L407.30,393.88 L408.30,393.36 L409.30,392.86 L410.30,392.38 L411.30,391.92 L412.30,391.48 L413.30,391.06 L414.30,390.66 L415.30,390.29 L416.30,389.94 L417.30,389.61 L418.30,389.31 L419.30,389.05 L420.30,388.80 L421.30,388.59 L422.30,388.41 L423.30,388.26 L424.30,388.14 L425.30,388.04 L426.30,387.98 L427.30,387.93 L428.30,387.92 L429.30,387.93 L430.30,387.96 L431.30,388.01 L432.30,388.09 L433.30,388.18 L434.30,388.30 L435.30,388.43 L436.30,388.58 L437.30,388.75 L438.30,388.93 L439.30,389.13 L440.30,389.34 L441.30,389.57 L442.30,389.80 L443.30,390.05 L444.30,390.31 L445.30,390.58 L446.30,390.85 L447.30,391.13 L448.30,391.42 L449.30,391.72 L450.30,392.01 L451.30,392.31 L452.30,392.62 L453.30,392.92 L454.30,393.23 L455.30,393.54 L456.30,393.84 L457.30,394.14 L458.30,394.44 L459.30,394.74 L460.30,395.03 L461.30,395.32 L462.30,395.60 L463.30,395.89 L464.30,396.17 L465.30,396.45 L466.30,396.72 L467.30,397.00 L468.30,397.27 L469.30,397.55 L470.30,397.82 L471.30,398.09 L472.30,398.36 L473.30,398.63 L474.30,398.89 L475.30,399.16 L476.30,399.43 L477.30,399.70 L478.30,399.97 L479.30,400.24 L480.30,400.51 L481.30,400.78 L482.30,401.06 L483.30,401.33 L484.30,401.61 L485.30,401.89 L486.30,402.17 L487.30,402.45 L488.30,402.74 L489.30,403.02 L490.30,403.32 L491.30,403.61 L492.30,403.91 L493.30,404.21 L494.30,404.52 L495.30,404.83 L496.30,405.14 L497.30,405.46 L498.30,405.78 L499.30,406.11 L500.30,406.44 L501.30,406.78 L502.30,407.12 L503.30,407.47 L504.30,407.83 L505.30,408.19 L506.30,408.56 L507.30,408.93 L508.30,409.31 L509.30,409.70 L510.30,410.10 L511.30,410.50 L512.30,410.91 L513.30,411.33 L514.30,411.75 L515.30,412.19 L516.30,412.63 L517.30,413.08 L518.30,413.54 L519.30,414.01 L520.30,414.49 L521.30,414.98 L522.30,415.48 L523.30,415.98 L524.30,416.50 L525.30,417.03 L526.30,417.57 L527.30,418.11 L528.30,418.67 L529.30,419.25 L530.30,419.83 L531.30,420.42 L532.30,421.03 L533.30,421.64 L534.30,422.27 L535.30,422.92 L536.30,423.57 L537.30,424.24 L538.30,424.92 L539.30,425.61 L540.30,426.32 L541.30,427.04 L542.30,427.77 L543.30,428.52 L544.30,429.29 L545.30,430.06 L546.30,430.85 L547.30,431.66 L548.30,432.48 L549.30,433.32 L550.30,434.17 L551.30,435.04 L552.30,435.93 L553.30,436.83 L554.30,437.74 L555.30,438.67 L556.30,439.62 L557.30,440.58 L558.30,441.55 L559.30,442.54 L560.30,443.54 L561.30,444.56 L562.30,445.59 L563.30,446.63 L564.30,447.69 L565.30,448.76 L566.30,449.84 L567.30,450.93 L568.30,452.03 L569.30,453.15 L570.30,454.27 L571.30,455.41 L572.30,456.56 L573.30,457.71 L574.30,458.88 L575.30,460.06 L576.30,461.24 L577.30,462.44 L578.30,463.64 L579.30,464.85 L580.30,466.07 L581.30,467.30 L582.30,468.54 L583.30,469.78 L584.30,471.03 L585.30,472.29 L586.30,473.55 L587.30,474.82 L588.30,476.10 L589.30,477.38 L590.30,478.67 L591.30,479.96 L592.30,481.25 L593.30,482.56 L594.30,483.86 L595.30,485.17 L596.30,486.48 L597.30,487.80 L598.30,489.11 L599.30,490.42 L600.30,491.74 L601.30,493.04 L602.30,494.35 L603.30,495.65 L604.30,496.94 L605.30,498.22 L606.30,499.49 L607.30,500.76 L608.30,502.01 L609.30,503.25 L610.30,504.47 L611.30,505.68 L612.30,506.87 L613.30,508.05 L614.30,509.20 L615.30,510.33 L616.30,511.45 L617.30,512.54 L618.30,513.60 L619.30,514.64 L620.30,515.65 L621.30,516.64 L622.30,517.60 L623.30,518.53 L624.30,519.44 L625.30,520.32 L626.30,521.17 L627.30,522.01 L628.30,522.82 L629.30,523.61 L630.30,524.38 L631.30,525.13 L632.30,525.86 L633.30,526.57 L634.30,527.26 L635.30,527.94 L636.30,528.60 L637.30,529.24 L638.30,529.87 L639.30,530.49 L640.30,531.10 L641.30,531.69 L642.30,532.27 L643.30,532.84 L644.30,533.40 L645.30,533.96 L646.30,534.50 L647.30,535.04 L648.30,535.58 L649.30,536.10 L650.30,536.63 L651.30,537.14 L652.30,537.66 L653.30,538.18 L654.30,538.69 L655.30,539.20 L656.30,539.71 L657.30,540.23 L658.30,540.75 L659.30,541.26 L660.30,541.79 L661.30,542.31 L662.30,542.85 L663.30,543.39 L664.30,543.93 L665.30,544.48 L666.30,545.05 L667.30,545.62 L668.30,546.20 L669.30,546.79 L670.30,547.40 L670.70,547.64" fill="none" stroke="#0000ff" stroke-width="2.3" stroke-linejoin="round"/>
</g>
<g clip-path="url(#cc)">
<path d="M69.20,593.96 L70.20,596.01 L71.20,597.96 L72.20,599.81 L73.20,601.57 L74.20,603.24 L75.20,604.81 L76.20,606.30 L77.20,607.71 L78.20,609.04 L79.20,610.29 L80.20,611.46 L81.20,612.57 L82.20,613.60 L83.20,614.57 L84.20,615.48 L85.20,616.33 L86.20,617.12 L87.20,617.86 L88.20,618.55 L89.20,619.19 L90.20,619.78 L91.20,620.34 L92.20,620.85 L93.20,621.33 L94.20,621.78 L95.20,622.20 L96.20,622.59 L97.20,622.96 L98.20,623.31 L99.20,623.64 L100.20,623.95 L101.20,624.25 L102.20,624.55 L103.20,624.83 L104.20,625.11 L105.20,625.37 L106.20,625.63 L107.20,625.88 L108.20,626.12 L109.20,626.36 L110.20,626.58 L111.20,626.81 L112.20,627.02 L113.20,627.23 L114.20,627.43 L115.20,627.62 L116.20,627.81 L117.20,628.00 L118.20,628.18 L119.20,628.36 L120.20,628.53 L121.20,628.70 L122.20,628.86 L123.20,629.02 L124.20,629.18 L125.20,629.34 L126.20,629.49 L127.20,629.64 L128.20,629.79 L129.20,629.94 L130.20,630.08 L131.20,630.23 L132.20,630.37 L133.20,630.52 L134.20,630.66 L135.20,630.81 L136.20,630.95 L137.20,631.10 L138.20,631.25 L139.20,631.39 L140.20,631.54 L141.20,631.70 L142.20,631.85 L143.20,632.01 L144.20,632.17 L145.20,632.33 L146.20,632.50 L147.20,632.67 L148.20,632.85 L149.20,633.03 L150.20,633.21 L151.20,633.39 L152.20,633.58 L153.20,633.77 L154.20,633.96 L155.20,634.16 L156.20,634.36 L157.20,634.56 L158.20,634.76 L159.20,634.97 L160.20,635.18 L161.20,635.38 L162.20,635.60 L163.20,635.81 L164.20,636.02 L165.20,636.24 L166.20,636.45 L167.20,636.67 L168.20,636.89 L169.20,637.11 L170.20,637.33 L171.20,637.55 L172.20,637.77 L173.20,637.99 L174.20,638.21 L175.20,638.43 L176.20,638.65 L177.20,638.87 L178.20,639.09 L179.20,639.31 L180.20,639.53 L181.20,639.75 L182.20,639.96 L183.20,640.18 L184.20,640.39 L185.20,640.61 L186.20,640.82 L187.20,641.03 L188.20,641.24 L189.20,641.45 L190.20,641.65 L191.20,641.85 L192.20,642.05 L193.20,642.25 L194.20,642.45 L195.20,642.64 L196.20,642.83 L197.20,643.02 L198.20,643.20 L199.20,643.38 L200.20,643.56 L201.20,643.73 L202.20,643.90 L203.20,644.07 L204.20,644.23 L205.20,644.39 L206.20,644.54 L207.20,644.69 L208.20,644.84 L209.20,644.98 L210.20,645.12 L211.20,645.25 L212.20,645.38 L213.20,645.50 L214.20,645.62 L215.20,645.73 L216.20,645.83 L217.20,645.93 L218.20,646.03 L219.20,646.12 L220.20,646.20 L221.20,646.28 L222.20,646.35 L223.20,646.41 L224.20,646.47 L225.20,646.52 L226.20,646.57 L227.20,646.60 L228.20,646.63 L229.20,646.66 L230.20,646.68 L231.20,646.69 L232.20,646.70 L233.20,646.70 L234.20,646.70 L235.20,646.69 L236.20,646.68 L237.20,646.66 L238.20,646.64 L239.20,646.61 L240.20,646.58 L241.20,646.55 L242.20,646.51 L243.20,646.46 L244.20,646.41 L245.20,646.36 L246.20,646.31 L247.20,646.25 L248.20,646.19 L249.20,646.13 L250.20,646.06 L251.20,645.99 L252.20,645.92 L253.20,645.84 L254.20,645.77 L255.20,645.69 L256.20,645.61 L257.20,645.52 L258.20,645.44 L259.20,645.35 L260.20,645.27 L261.20,645.18 L262.20,645.09 L263.20,645.00 L264.20,644.91 L265.20,644.82 L266.20,644.73 L267.20,644.64 L268.20,644.55 L269.20,644.45 L270.20,644.36 L271.20,644.27 L272.20,644.18 L273.20,644.09 L274.20,644.01 L275.20,643.92 L276.20,643.83 L277.20,643.75 L278.20,643.67 L279.20,643.59 L280.20,643.51 L281.20,643.43 L282.20,643.35 L283.20,643.28 L284.20,643.21 L285.20,643.14 L286.20,643.08 L287.20,643.02 L288.20,642.96 L289.20,642.90 L290.20,642.85 L291.20,642.80 L292.20,642.76 L293.20,642.72 L294.20,642.68 L295.20,642.65 L296.20,642.62 L297.20,642.60 L298.20,642.57 L299.20,642.56 L300.20,642.54 L301.20,642.53 L302.20,642.53 L303.20,642.53 L304.20,642.53 L305.20,642.53 L306.20,642.54 L307.20,642.55 L308.20,642.56 L309.20,642.58 L310.20,642.60 L311.20,642.62 L312.20,642.64 L313.20,642.67 L314.20,642.70 L315.20,642.73 L316.20,642.77 L317.20,642.81 L318.20,642.85 L319.20,642.89 L320.20,642.93 L321.20,642.97 L322.20,643.02 L323.20,643.07 L324.20,643.12 L325.20,643.17 L326.20,643.23 L327.20,643.28 L328.20,643.34 L329.20,643.40 L330.20,643.46 L331.20,643.52 L332.20,643.58 L333.20,643.64 L334.20,643.70 L335.20,643.77 L336.20,643.83 L337.20,643.90 L338.20,643.96 L339.20,644.03 L340.20,644.09 L341.20,644.16 L342.20,644.23 L343.20,644.29 L344.20,644.36 L345.20,644.43 L346.20,644.49 L347.20,644.56 L348.20,644.63 L349.20,644.69 L350.20,644.76 L351.20,644.82 L352.20,644.89 L353.20,644.95 L354.20,645.01 L355.20,645.07 L356.20,645.14 L357.20,645.19 L358.20,645.25 L359.20,645.31 L360.20,645.37 L361.20,645.42 L362.20,645.47 L363.20,645.53 L364.20,645.58 L365.20,645.62 L366.20,645.67 L367.20,645.71 L368.20,645.76 L369.20,645.80 L370.20,645.83 L371.20,645.87 L372.20,645.90 L373.20,645.94 L374.20,645.96 L375.20,645.99 L376.20,646.01 L377.20,646.03 L378.20,646.05 L379.20,646.07 L380.20,646.08 L381.20,646.10 L382.20,646.11 L383.20,646.12 L384.20,646.12 L385.20,646.13 L386.20,646.13 L387.20,646.13 L388.20,646.14 L389.20,646.14 L390.20,646.13 L391.20,646.13 L392.20,646.13 L393.20,646.12 L394.20,646.12 L395.20,646.11 L396.20,646.11 L397.20,646.10 L398.20,646.09 L399.20,646.08 L400.20,646.08 L401.20,646.07 L402.20,646.06 L403.20,646.05 L404.20,646.05 L405.20,646.04 L406.20,646.03 L407.20,646.03 L408.20,646.02 L409.20,646.02 L410.20,646.01 L411.20,646.01 L412.20,646.01 L413.20,646.00 L414.20,646.00 L415.20,646.00 L416.20,646.01 L417.20,646.01 L418.20,646.02 L419.20,646.02 L420.20,646.03 L421.20,646.04 L422.20,646.06 L423.20,646.07 L424.20,646.09 L425.20,646.11 L426.20,646.13 L427.20,646.15 L428.20,646.18 L429.20,646.21 L430.20,646.24 L431.20,646.27 L432.20,646.31 L433.20,646.35 L434.20,646.39 L435.20,646.44 L436.20,646.49 L437.20,646.54 L438.20,646.60 L439.20,646.66 L440.20,646.72 L441.20,646.79 L442.20,646.86 L443.20,646.94 L444.20,647.02 L445.20,647.10 L446.20,647.19 L447.20,647.28 L448.20,647.37 L449.20,647.47 L450.20,647.57 L451.20,647.67 L452.20,647.77 L453.20,647.88 L454.20,647.98 L455.20,648.09 L456.20,648.20 L457.20,648.30 L458.20,648.41 L459.20,648.52 L460.20,648.63 L461.20,648.74 L462.20,648.84 L463.20,648.95 L464.20,649.05 L465.20,649.15 L466.20,649.25 L467.20,649.35 L468.20,649.44 L469.20,649.53 L470.20,649.62 L471.20,649.70 L472.20,649.78 L473.20,649.86 L474.20,649.93 L475.20,650.00 L476.20,650.06 L477.20,650.12 L478.20,650.17 L479.20,650.21 L480.20,650.25 L481.20,650.28 L482.20,650.31 L483.20,650.33 L484.20,650.34 L485.20,650.34 L486.20,650.34 L487.20,650.33 L488.20,650.31 L489.20,650.28 L490.20,650.24 L491.20,650.19 L492.20,650.13 L493.20,650.07 L494.20,649.99 L495.20,649.91 L496.20,649.82 L497.20,649.73 L498.20,649.62 L499.20,649.51 L500.20,649.39 L501.20,649.27 L502.20,649.14 L503.20,649.00 L504.20,648.85 L505.20,648.70 L506.20,648.55 L507.20,648.39 L508.20,648.22 L509.20,648.05 L510.20,647.87 L511.20,647.69 L512.20,647.51 L513.20,647.32 L514.20,647.12 L515.20,646.93 L516.20,646.72 L517.20,646.52 L518.20,646.31 L519.20,646.10 L520.20,645.89 L521.20,645.68 L522.20,645.46 L523.20,645.24 L524.20,645.02 L525.20,644.79 L526.20,644.57 L527.20,644.34 L528.20,644.12 L529.20,643.89 L530.20,643.66 L531.20,643.42 L532.20,643.19 L533.20,642.96 L534.20,642.72 L535.20,642.48 L536.20,642.25 L537.20,642.01 L538.20,641.77 L539.20,641.53 L540.20,641.29 L541.20,641.05 L542.20,640.81 L543.20,640.57 L544.20,640.32 L545.20,640.08 L546.20,639.84 L547.20,639.60 L548.20,639.35 L549.20,639.11 L550.20,638.87 L551.20,638.63 L552.20,638.39 L553.20,638.15 L554.20,637.91 L555.20,637.67 L556.20,637.43 L557.20,637.19 L558.20,636.95 L559.20,636.71 L560.20,636.48 L561.20,636.24 L562.20,636.01 L563.20,635.78 L564.20,635.55 L565.20,635.32 L566.20,635.09 L567.20,634.86 L568.20,634.63 L569.20,634.41 L570.20,634.19 L571.20,633.97 L572.20,633.75 L573.20,633.53 L574.20,633.32 L575.20,633.11 L576.20,632.90 L577.20,632.69 L578.20,632.49 L579.20,632.28 L580.20,632.08 L581.20,631.88 L582.20,631.69 L583.20,631.50 L584.20,631.31 L585.20,631.12 L586.20,630.94 L587.20,630.76 L588.20,630.58 L589.20,630.41 L590.20,630.24 L591.20,630.07 L592.20,629.91 L593.20,629.74 L594.20,629.59 L595.20,629.44 L596.20,629.29 L597.20,629.14 L598.20,629.00 L599.20,628.86 L600.20,628.73 L601.20,628.60 L602.20,628.47 L603.20,628.35 L604.20,628.24 L605.20,628.12 L606.20,628.01 L607.20,627.91 L608.20,627.80 L609.20,627.70 L610.20,627.60 L611.20,627.50 L612.20,627.40 L613.20,627.30 L614.20,627.21 L615.20,627.11 L616.20,627.01 L617.20,626.91 L618.20,626.82 L619.20,626.72 L620.20,626.61 L621.20,626.51 L622.20,626.40 L623.20,626.30 L624.20,626.18 L625.20,626.07 L626.20,625.95 L627.20,625.83 L628.20,625.70 L629.20,625.57 L630.20,625.44 L631.20,625.29 L632.20,625.15 L633.20,624.99 L634.20,624.83 L635.20,624.67 L636.20,624.49 L637.20,624.31 L638.20,624.12 L639.20,623.93 L640.20,623.72 L641.20,623.51 L642.20,623.28 L643.20,623.05 L644.20,622.81 L645.20,622.56 L646.20,622.29 L647.20,622.02 L648.20,621.74 L649.20,621.44 L650.20,621.13 L651.20,620.81 L652.20,620.48 L653.20,620.13 L654.20,619.77 L655.20,619.40 L656.20,619.01 L657.20,618.61 L658.20,618.20 L659.20,617.77 L660.20,617.32 L661.20,616.86 L662.20,616.39 L663.20,615.89 L664.20,615.38 L665.20,614.86 L666.20,614.31 L667.20,613.75 L668.20,613.17 L669.20,612.57 L670.20,611.96 L670.70,611.64" fill="none" stroke="#008000" stroke-width="2.3" stroke-dasharray="11.00,12.00" stroke-dashoffset="0.73"/>
<path d="M69.20,630.74 L70.20,631.31 L71.20,631.87 L72.20,632.41 L73.20,632.92 L74.20,633.42 L75.20,633.91 L76.20,634.37 L77.20,634.82 L78.20,635.25 L79.20,635.67 L80.20,636.07 L81.20,636.45 L82.20,636.82 L83.20,637.18 L84.20,637.52 L85.20,637.85 L86.20,638.16 L87.20,638.47 L88.20,638.76 L89.20,639.04 L90.20,639.30 L91.20,639.56 L92.20,639.81 L93.20,640.04 L94.20,640.27 L95.20,640.49 L96.20,640.70 L97.20,640.90 L98.20,641.09 L99.20,641.27 L100.20,641.45 L101.20,641.62 L102.20,641.79 L103.20,641.95 L104.20,642.10 L105.20,642.25 L106.20,642.40 L107.20,642.54 L108.20,642.68 L109.20,642.81 L110.20,642.94 L111.20,643.07 L112.20,643.20 L113.20,643.32 L114.20,643.45 L115.20,643.57 L116.20,643.70 L117.20,643.82 L118.20,643.95 L119.20,644.07 L120.20,644.20 L121.20,644.33 L122.20,644.46 L123.20,644.60 L124.20,644.73 L125.20,644.88 L126.20,645.02 L127.20,645.17 L128.20,645.33 L129.20,645.49 L130.20,645.66 L131.20,645.83 L132.20,646.00 L133.20,646.19 L134.20,646.37 L135.20,646.56 L136.20,646.76 L137.20,646.96 L138.20,647.17 L139.20,647.38 L140.20,647.60 L141.20,647.83 L142.20,648.05 L143.20,648.29 L144.20,648.52 L145.20,648.77 L146.20,649.02 L147.20,649.27 L148.20,649.53 L149.20,649.79 L150.20,650.06 L151.20,650.33 L152.20,650.61 L153.20,650.89 L154.20,651.18 L155.20,651.47 L156.20,651.77 L157.20,652.07 L158.20,652.38 L159.20,652.69 L160.20,653.01 L161.20,653.33 L162.20,653.65 L163.20,653.98 L164.20,654.32 L165.20,654.65 L166.20,654.99 L167.20,655.33 L168.20,655.68 L169.20,656.02 L170.20,656.37 L171.20,656.71 L172.20,657.06 L173.20,657.41 L174.20,657.76 L175.20,658.10 L176.20,658.45 L177.20,658.79 L178.20,659.14 L179.20,659.48 L180.20,659.81 L181.20,660.15 L182.20,660.48 L183.20,660.81 L184.20,661.13 L185.20,661.45 L186.20,661.77 L187.20,662.07 L188.20,662.38 L189.20,662.68 L190.20,662.97 L191.20,663.25 L192.20,663.53 L193.20,663.80 L194.20,664.06 L195.20,664.31 L196.20,664.56 L197.20,664.79 L198.20,665.02 L199.20,665.24 L200.20,665.45 L201.20,665.65 L202.20,665.85 L203.20,666.03 L204.20,666.21 L205.20,666.39 L206.20,666.56 L207.20,666.72 L208.20,666.87 L209.20,667.02 L210.20,667.17 L211.20,667.31 L212.20,667.44 L213.20,667.57 L214.20,667.69 L215.20,667.82 L216.20,667.93 L217.20,668.05 L218.20,668.16 L219.20,668.26 L220.20,668.37 L221.20,668.47 L222.20,668.57 L223.20,668.67 L224.20,668.76 L225.20,668.86 L226.20,668.95 L227.20,669.04 L228.20,669.13 L229.20,669.22 L230.20,669.31 L231.20,669.40 L232.20,669.49 L233.20,669.59 L234.20,669.68 L235.20,669.77 L236.20,669.87 L237.20,669.96 L238.20,670.06 L239.20,670.16 L240.20,670.27 L241.20,670.37 L242.20,670.48 L243.20,670.60 L244.20,670.71 L245.20,670.83 L246.20,670.95 L247.20,671.07 L248.20,671.19 L249.20,671.32 L250.20,671.45 L251.20,671.58 L252.20,671.71 L253.20,671.84 L254.20,671.97 L255.20,672.10 L256.20,672.24 L257.20,672.37 L258.20,672.51 L259.20,672.64 L260.20,672.77 L261.20,672.91 L262.20,673.04 L263.20,673.18 L264.20,673.31 L265.20,673.44 L266.20,673.57 L267.20,673.70 L268.20,673.83 L269.20,673.95 L270.20,674.07 L271.20,674.20 L272.20,674.31 L273.20,674.43 L274.20,674.55 L275.20,674.66 L276.20,674.77 L277.20,674.87 L278.20,674.97 L279.20,675.07 L280.20,675.17 L281.20,675.26 L282.20,675.35 L283.20,675.43 L284.20,675.51 L285.20,675.58 L286.20,675.65 L287.20,675.72 L288.20,675.78 L289.20,675.84 L290.20,675.90 L291.20,675.95 L292.20,676.00 L293.20,676.04 L294.20,676.08 L295.20,676.12 L296.20,676.15 L297.20,676.18 L298.20,676.21 L299.20,676.23 L300.20,676.25 L301.20,676.27 L302.20,676.28 L303.20,676.29 L304.20,676.29 L305.20,676.29 L306.20,676.29 L307.20,676.29 L308.20,676.28 L309.20,676.27 L310.20,676.26 L311.20,676.24 L312.20,676.22 L313.20,676.20 L314.20,676.17 L315.20,676.14 L316.20,676.11 L317.20,676.08 L318.20,676.04 L319.20,676.00 L320.20,675.96 L321.20,675.91 L322.20,675.86 L323.20,675.81 L324.20,675.76 L325.20,675.71 L326.20,675.65 L327.20,675.59 L328.20,675.52 L329.20,675.46 L330.20,675.39 L331.20,675.32 L332.20,675.25 L333.20,675.17 L334.20,675.09 L335.20,675.01 L336.20,674.93 L337.20,674.85 L338.20,674.76 L339.20,674.68 L340.20,674.59 L341.20,674.49 L342.20,674.40 L343.20,674.30 L344.20,674.21 L345.20,674.11 L346.20,674.01 L347.20,673.90 L348.20,673.80 L349.20,673.69 L350.20,673.58 L351.20,673.47 L352.20,673.36 L353.20,673.25 L354.20,673.14 L355.20,673.02 L356.20,672.90 L357.20,672.79 L358.20,672.67 L359.20,672.54 L360.20,672.42 L361.20,672.30 L362.20,672.18 L363.20,672.05 L364.20,671.93 L365.20,671.80 L366.20,671.68 L367.20,671.56 L368.20,671.44 L369.20,671.32 L370.20,671.20 L371.20,671.09 L372.20,670.97 L373.20,670.86 L374.20,670.75 L375.20,670.65 L376.20,670.55 L377.20,670.45 L378.20,670.35 L379.20,670.26 L380.20,670.18 L381.20,670.10 L382.20,670.02 L383.20,669.95 L384.20,669.89 L385.20,669.83 L386.20,669.77 L387.20,669.73 L388.20,669.69 L389.20,669.65 L390.20,669.63 L391.20,669.61 L392.20,669.60 L393.20,669.60 L394.20,669.60 L395.20,669.62 L396.20,669.64 L397.20,669.67 L398.20,669.71 L399.20,669.76 L400.20,669.83 L401.20,669.90 L402.20,669.98 L403.20,670.07 L404.20,670.18 L405.20,670.29 L406.20,670.42 L407.20,670.56 L408.20,670.71 L409.20,670.87 L410.20,671.05 L411.20,671.23 L412.20,671.43 L413.20,671.64 L414.20,671.86 L415.20,672.08 L416.20,672.32 L417.20,672.56 L418.20,672.82 L419.20,673.08 L420.20,673.34 L421.20,673.62 L422.20,673.90 L423.20,674.18 L424.20,674.47 L425.20,674.77 L426.20,675.07 L427.20,675.37 L428.20,675.67 L429.20,675.98 L430.20,676.29 L431.20,676.61 L432.20,676.92 L433.20,677.23 L434.20,677.55 L435.20,677.86 L436.20,678.18 L437.20,678.49 L438.20,678.80 L439.20,679.11 L440.20,679.42 L441.20,679.72 L442.20,680.02 L443.20,680.32 L444.20,680.61 L445.20,680.89 L446.20,681.18 L447.20,681.45 L448.20,681.72 L449.20,681.98 L450.20,682.24 L451.20,682.48 L452.20,682.73 L453.20,682.96 L454.20,683.19 L455.20,683.41 L456.20,683.62 L457.20,683.82 L458.20,684.02 L459.20,684.21 L460.20,684.40 L461.20,684.58 L462.20,684.74 L463.20,684.91 L464.20,685.06 L465.20,685.21 L466.20,685.35 L467.20,685.48 L468.20,685.61 L469.20,685.73 L470.20,685.84 L471.20,685.94 L472.20,686.04 L473.20,686.13 L474.20,686.21 L475.20,686.29 L476.20,686.35 L477.20,686.41 L478.20,686.46 L479.20,686.51 L480.20,686.54 L481.20,686.57 L482.20,686.59 L483.20,686.61 L484.20,686.61 L485.20,686.61 L486.20,686.60 L487.20,686.59 L488.20,686.56 L489.20,686.53 L490.20,686.49 L491.20,686.44 L492.20,686.38 L493.20,686.32 L494.20,686.25 L495.20,686.17 L496.20,686.08 L497.20,685.99 L498.20,685.88 L499.20,685.77 L500.20,685.65 L501.20,685.53 L502.20,685.39 L503.20,685.25 L504.20,685.10 L505.20,684.94 L506.20,684.77 L507.20,684.59 L508.20,684.41 L509.20,684.22 L510.20,684.02 L511.20,683.81 L512.20,683.59 L513.20,683.37 L514.20,683.14 L515.20,682.89 L516.20,682.64 L517.20,682.39 L518.20,682.12 L519.20,681.85 L520.20,681.56 L521.20,681.27 L522.20,680.97 L523.20,680.66 L524.20,680.35 L525.20,680.02 L526.20,679.69 L527.20,679.35 L528.20,679.00 L529.20,678.64 L530.20,678.27 L531.20,677.90 L532.20,677.52 L533.20,677.14 L534.20,676.74 L535.20,676.34 L536.20,675.94 L537.20,675.53 L538.20,675.11 L539.20,674.69 L540.20,674.26 L541.20,673.83 L542.20,673.40 L543.20,672.96 L544.20,672.51 L545.20,672.06 L546.20,671.61 L547.20,671.15 L548.20,670.69 L549.20,670.23 L550.20,669.77 L551.20,669.30 L552.20,668.83 L553.20,668.36 L554.20,667.88 L555.20,667.41 L556.20,666.93 L557.20,666.45 L558.20,665.98 L559.20,665.50 L560.20,665.02 L561.20,664.54 L562.20,664.06 L563.20,663.58 L564.20,663.10 L565.20,662.62 L566.20,662.15 L567.20,661.67 L568.20,661.20 L569.20,660.72 L570.20,660.25 L571.20,659.79 L572.20,659.32 L573.20,658.86 L574.20,658.40 L575.20,657.94 L576.20,657.49 L577.20,657.04 L578.20,656.59 L579.20,656.15 L580.20,655.71 L581.20,655.28 L582.20,654.85 L583.20,654.43 L584.20,654.01 L585.20,653.60 L586.20,653.19 L587.20,652.79 L588.20,652.40 L589.20,652.01 L590.20,651.63 L591.20,651.25 L592.20,650.89 L593.20,650.53 L594.20,650.17 L595.20,649.83 L596.20,649.49 L597.20,649.17 L598.20,648.85 L599.20,648.54 L600.20,648.24 L601.20,647.95 L602.20,647.66 L603.20,647.39 L604.20,647.12 L605.20,646.86 L606.20,646.61 L607.20,646.37 L608.20,646.13 L609.20,645.90 L610.20,645.68 L611.20,645.46 L612.20,645.25 L613.20,645.05 L614.20,644.85 L615.20,644.65 L616.20,644.46 L617.20,644.28 L618.20,644.10 L619.20,643.93 L620.20,643.75 L621.20,643.59 L622.20,643.42 L623.20,643.26 L624.20,643.10 L625.20,642.95 L626.20,642.79 L627.20,642.64 L628.20,642.49 L629.20,642.34 L630.20,642.19 L631.20,642.05 L632.20,641.90 L633.20,641.76 L634.20,641.61 L635.20,641.47 L636.20,641.32 L637.20,641.18 L638.20,641.03 L639.20,640.88 L640.20,640.73 L641.20,640.58 L642.20,640.43 L643.20,640.28 L644.20,640.12 L645.20,639.96 L646.20,639.79 L647.20,639.63 L648.20,639.46 L649.20,639.28 L650.20,639.11 L651.20,638.92 L652.20,638.74 L653.20,638.54 L654.20,638.35 L655.20,638.14 L656.20,637.94 L657.20,637.72 L658.20,637.50 L659.20,637.28 L660.20,637.04 L661.20,636.80 L662.20,636.55 L663.20,636.30 L664.20,636.03 L665.20,635.76 L666.20,635.48 L667.20,635.19 L668.20,634.90 L669.20,634.59 L670.20,634.27 L670.70,634.11" fill="none" stroke="#0000ff" stroke-width="2.3" stroke-linejoin="round"/>
<path d="M69.00,819.50 L70.00,813.88 L71.00,809.86 L72.00,807.04 L73.00,805.05 L74.00,803.51 L75.00,802.04 L76.00,800.25 L77.00,797.81 L78.00,794.91 L79.00,792.01 L80.00,789.58 L81.00,787.68 L82.00,786.04 L83.00,784.47 L84.00,782.93 L85.00,781.44 L86.00,779.97 L87.00,778.54 L88.00,777.14 L89.00,775.76 L90.00,774.42 L91.00,773.10 L92.00,771.81 L93.00,770.54 L94.00,769.30 L95.00,768.08 L96.00,766.88 L97.00,765.69 L98.00,764.53 L99.00,763.38 L100.00,762.25 L101.00,761.14 L102.00,760.03 L103.00,758.94 L104.00,757.86 L105.00,756.79 L106.00,755.72 L107.00,754.66 L108.00,753.61 L109.00,752.56 L110.00,751.52 L111.00,750.47 L112.00,749.43 L113.00,748.39 L114.00,747.34 L115.00,746.29 L116.00,745.24 L117.00,744.19 L118.00,743.14 L119.00,742.08 L120.00,741.03 L121.00,739.97 L122.00,738.92 L123.00,737.86 L124.00,736.81 L125.00,735.76 L126.00,734.70 L127.00,733.65 L128.00,732.60 L129.00,731.56 L130.00,730.51 L131.00,729.47 L132.00,728.43 L133.00,727.40 L134.00,726.37 L135.00,725.34 L136.00,724.31 L137.00,723.30 L138.00,722.28 L139.00,721.27 L140.00,720.27 L141.00,719.27 L142.00,718.28 L143.00,717.29 L144.00,716.31 L145.00,715.34 L146.00,714.37 L147.00,713.41 L148.00,712.46 L149.00,711.52 L150.00,710.59 L151.00,709.66 L152.00,708.74 L153.00,707.84 L154.00,706.94 L155.00,706.05 L156.00,705.17 L157.00,704.30 L158.00,703.45 L159.00,702.60 L160.00,701.77 L161.00,700.94 L162.00,700.13 L163.00,699.33 L164.00,698.55 L165.00,697.77 L166.00,697.01 L167.00,696.26 L168.00,695.53 L169.00,694.81 L170.00,694.10 L171.00,693.41 L172.00,692.73 L173.00,692.06 L174.00,691.41 L175.00,690.77 L176.00,690.14 L177.00,689.52 L178.00,688.92 L179.00,688.33 L180.00,687.75 L181.00,687.18 L182.00,686.63 L183.00,686.08 L184.00,685.55 L185.00,685.03 L186.00,684.52 L187.00,684.02 L188.00,683.53 L189.00,683.06 L190.00,682.59 L191.00,682.14 L192.00,681.69 L193.00,681.26 L194.00,680.83 L195.00,680.42 L196.00,680.02 L197.00,679.62 L198.00,679.24 L199.00,678.86 L200.00,678.49 L201.00,678.14 L202.00,677.79 L203.00,677.45 L204.00,677.12 L205.00,676.80 L206.00,676.49 L207.00,676.18 L208.00,675.89 L209.00,675.60 L210.00,675.32 L211.00,675.05 L212.00,674.79 L213.00,674.54 L214.00,674.30 L215.00,674.07 L216.00,673.84 L217.00,673.63 L218.00,673.43 L219.00,673.24 L220.00,673.07 L221.00,672.90 L222.00,672.75 L223.00,672.60 L224.00,672.47 L225.00,672.35 L226.00,672.25 L227.00,672.15 L228.00,672.07 L229.00,672.01 L230.00,671.95 L231.00,671.91 L232.00,671.89 L233.00,671.87 L234.00,671.86 L235.00,671.87 L236.00,671.88 L237.00,671.90 L238.00,671.92 L239.00,671.95 L240.00,671.99 L241.00,672.02 L242.00,672.06 L243.00,672.11 L244.00,672.15 L245.00,672.19 L246.00,672.24 L247.00,672.28 L248.00,672.32 L249.00,672.35 L250.00,672.39 L251.00,672.43 L252.00,672.46 L253.00,672.50 L254.00,672.53 L255.00,672.57 L256.00,672.60 L257.00,672.63 L258.00,672.66 L259.00,672.69 L260.00,672.72 L261.00,672.74 L262.00,672.77 L263.00,672.79 L264.00,672.82 L265.00,672.84 L266.00,672.87 L267.00,672.89 L268.00,672.91 L269.00,672.93 L270.00,672.95 L271.00,672.97 L272.00,672.99 L273.00,673.00 L274.00,673.02 L275.00,673.04 L276.00,673.05 L277.00,673.06 L278.00,673.08 L279.00,673.09 L280.00,673.10 L281.00,673.11 L282.00,673.12 L283.00,673.13 L284.00,673.14 L285.00,673.15 L286.00,673.16 L287.00,673.17 L288.00,673.18 L289.00,673.18 L290.00,673.19 L291.00,673.19 L292.00,673.20 L293.00,673.20 L294.00,673.20 L295.00,673.21 L296.00,673.21 L297.00,673.21 L298.00,673.21 L299.00,673.21 L300.00,673.21 L301.00,673.21 L302.00,673.21 L303.00,673.21 L304.00,673.21 L305.00,673.21 L306.00,673.21 L307.00,673.20 L308.00,673.20 L309.00,673.20 L310.00,673.19 L311.00,673.19 L312.00,673.18 L313.00,673.18 L314.00,673.17 L315.00,673.17 L316.00,673.16 L317.00,673.15 L318.00,673.15 L319.00,673.14 L320.00,673.13 L321.00,673.13 L322.00,673.12 L323.00,673.11 L324.00,673.10 L325.00,673.09 L326.00,673.09 L327.00,673.08 L328.00,673.07 L329.00,673.06 L330.00,673.05 L331.00,673.04 L332.00,673.03 L333.00,673.02 L334.00,673.01 L335.00,673.00 L336.00,672.99 L337.00,672.98 L338.00,672.97 L339.00,672.95 L340.00,672.94 L341.00,672.93 L342.00,672.92 L343.00,672.91 L344.00,672.89 L345.00,672.88 L346.00,672.87 L347.00,672.85 L348.00,672.84 L349.00,672.82 L350.00,672.81 L351.00,672.79 L352.00,672.78 L353.00,672.76 L354.00,672.74 L355.00,672.73 L356.00,672.71 L357.00,672.69 L358.00,672.67 L359.00,672.65 L360.00,672.63 L361.00,672.61 L362.00,672.59 L363.00,672.57 L364.00,672.55 L365.00,672.53 L366.00,672.50 L367.00,672.48 L368.00,672.46 L369.00,672.43 L370.00,672.41 L371.00,672.38 L372.00,672.35 L373.00,672.33 L374.00,672.30 L375.00,672.27 L376.00,672.24 L377.00,672.21 L378.00,672.18 L379.00,672.15 L380.00,672.12 L381.00,672.09 L382.00,672.05 L383.00,672.02 L384.00,671.99 L385.00,671.95 L386.00,671.91 L387.00,671.88 L388.00,671.84 L389.00,671.80 L390.00,671.76 L391.00,671.72 L392.00,671.68 L393.00,671.64 L394.00,671.60 L395.00,671.55 L396.00,671.51 L397.00,671.46 L398.00,671.42 L399.00,671.37 L400.00,671.32 L401.00,671.27 L402.00,671.22 L403.00,671.17 L404.00,671.12 L405.00,671.07 L406.00,671.02 L407.00,670.96 L408.00,670.91 L409.00,670.85 L410.00,670.79 L411.00,670.73 L412.00,670.67 L413.00,670.61 L414.00,670.55 L415.00,670.49 L416.00,670.43 L417.00,670.36 L418.00,670.30 L419.00,670.23 L420.00,670.16 L421.00,670.09 L422.00,670.02 L423.00,669.95 L424.00,669.88 L425.00,669.80 L426.00,669.73 L427.00,669.65 L428.00,669.57 L429.00,669.50 L430.00,669.42 L431.00,669.33 L432.00,669.25 L433.00,669.17 L434.00,669.08 L435.00,669.00 L436.00,668.91 L437.00,668.82 L438.00,668.73 L439.00,668.64 L440.00,668.55 L441.00,668.46 L442.00,668.36 L443.00,668.26 L444.00,668.17 L445.00,668.07 L446.00,667.97 L447.00,667.88 L448.00,667.78 L449.00,667.68 L450.00,667.58 L451.00,667.48 L452.00,667.39 L453.00,667.29 L454.00,667.19 L455.00,667.10 L456.00,667.00 L457.00,666.91 L458.00,666.82 L459.00,666.73 L460.00,666.64 L461.00,666.55 L462.00,666.46 L463.00,666.38 L464.00,666.30 L465.00,666.22 L466.00,666.14 L467.00,666.06 L468.00,665.99 L469.00,665.92 L470.00,665.85 L471.00,665.79 L472.00,665.73 L473.00,665.67 L474.00,665.61 L475.00,665.56 L476.00,665.51 L477.00,665.47 L478.00,665.43 L479.00,665.39 L480.00,665.36 L481.00,665.34 L482.00,665.31 L483.00,665.29 L484.00,665.28 L485.00,665.27 L486.00,665.27 L487.00,665.27 L488.00,665.28 L489.00,665.29 L490.00,665.31 L491.00,665.33 L492.00,665.36 L493.00,665.40 L494.00,665.44 L495.00,665.49 L496.00,665.54 L497.00,665.60 L498.00,665.67 L499.00,665.74 L500.00,665.82 L501.00,665.91 L502.00,666.01 L503.00,666.11 L504.00,666.22 L505.00,666.34 L506.00,666.47 L507.00,666.60 L508.00,666.74 L509.00,666.89 L510.00,667.05 L511.00,667.22 L512.00,667.39 L513.00,667.58 L514.00,667.77 L515.00,667.97 L516.00,668.19 L517.00,668.41 L518.00,668.64 L519.00,668.88 L520.00,669.13 L521.00,669.39 L522.00,669.66 L523.00,669.93 L524.00,670.22 L525.00,670.52 L526.00,670.83 L527.00,671.15 L528.00,671.48 L529.00,671.82 L530.00,672.17 L531.00,672.53 L532.00,672.90 L533.00,673.28 L534.00,673.67 L535.00,674.07 L536.00,674.48 L537.00,674.90 L538.00,675.33 L539.00,675.77 L540.00,676.22 L541.00,676.68 L542.00,677.14 L543.00,677.62 L544.00,678.11 L545.00,678.61 L546.00,679.11 L547.00,679.63 L548.00,680.16 L549.00,680.69 L550.00,681.24 L551.00,681.79 L552.00,682.36 L553.00,682.93 L554.00,683.51 L555.00,684.10 L556.00,684.71 L557.00,685.32 L558.00,685.94 L559.00,686.57 L560.00,687.21 L561.00,687.85 L562.00,688.51 L563.00,689.18 L564.00,689.85 L565.00,690.54 L566.00,691.23 L567.00,691.94 L568.00,692.65 L569.00,693.37 L570.00,694.10 L571.00,694.84 L572.00,695.59 L573.00,696.35 L574.00,697.11 L575.00,697.89 L576.00,698.67 L577.00,699.47 L578.00,700.27 L579.00,701.08 L580.00,701.90 L581.00,702.73 L582.00,703.57 L583.00,704.41 L584.00,705.27 L585.00,706.13 L586.00,707.01 L587.00,707.89 L588.00,708.78 L589.00,709.67 L590.00,710.58 L591.00,711.50 L592.00,712.42 L593.00,713.35 L594.00,714.29 L595.00,715.24 L596.00,716.19 L597.00,717.16 L598.00,718.13 L599.00,719.10 L600.00,720.09 L601.00,721.08 L602.00,722.08 L603.00,723.08 L604.00,724.09 L605.00,725.11 L606.00,726.13 L607.00,727.16 L608.00,728.19 L609.00,729.23 L610.00,730.27 L611.00,731.32 L612.00,732.38 L613.00,733.44 L614.00,734.50 L615.00,735.57 L616.00,736.64 L617.00,737.72 L618.00,738.80 L619.00,739.89 L620.00,740.97 L621.00,742.07 L622.00,743.16 L623.00,744.26 L624.00,745.36 L625.00,746.47 L626.00,747.57 L627.00,748.68 L628.00,749.79 L629.00,750.91 L630.00,752.02 L631.00,753.14 L632.00,754.26 L633.00,755.38 L634.00,756.51 L635.00,757.63 L636.00,758.76 L637.00,759.88 L638.00,761.00 L639.00,762.12 L640.00,763.24 L641.00,764.35 L642.00,765.45 L643.00,766.55 L644.00,767.64 L645.00,768.72 L646.00,769.79 L647.00,770.84 L648.00,771.89 L649.00,772.92 L650.00,773.94 L651.00,774.94 L652.00,775.92 L653.00,776.89 L654.00,777.83 L655.00,778.76 L656.00,779.66 L657.00,780.55 L658.00,781.41 L659.00,782.24 L660.00,783.05 L661.00,783.83 L662.00,784.58 L663.00,785.31 L664.00,786.00 L665.00,786.67 L666.00,787.30 L667.00,787.89 L668.00,788.46 L669.00,788.98 L670.00,789.48 L670.70,789.80" fill="none" stroke="#ff0000" stroke-width="2.3" stroke-dasharray="11.50,7.36,1.60,7.36" stroke-dashoffset="18.57"/>
</g>
<line x1="549.9" y1="321.9" x2="615.8" y2="321.9" stroke="#0000ff" stroke-width="2.3"/>
<text x="622.0" y="329.7" font-size="23">LA</text>
<line x1="549.9" y1="348.4" x2="615.8" y2="348.4" stroke="#008000" stroke-width="2.3" stroke-dasharray="11.5,11.5" stroke-dashoffset="0.0"/>
<text x="622.0" y="356.2" font-size="23">TA</text>
<line x1="549.9" y1="374.9" x2="615.8" y2="374.9" stroke="#ff0000" stroke-width="2.3" stroke-dasharray="11.7,7.4,1.5,7.4" stroke-dashoffset="19.3"/>
<text x="622.0" y="382.7" font-size="23">ZA</text>
<line x1="457.7" y1="744.4" x2="523.5" y2="744.4" stroke="#0000ff" stroke-width="2.3"/>
<text x="530.0" y="752.2" font-size="23">LA</text>
<line x1="457.7" y1="770.9" x2="523.5" y2="770.9" stroke="#008000" stroke-width="2.3" stroke-dasharray="11.5,11.5" stroke-dashoffset="0.0"/>
<text x="530.0" y="778.7" font-size="23">TA</text>
<line x1="457.7" y1="797.4" x2="523.5" y2="797.4" stroke="#ff0000" stroke-width="2.3" stroke-dasharray="11.7,7.4,1.5,7.4" stroke-dashoffset="19.3"/>
<text x="530.0" y="805.2" font-size="23">ZA</text>
<rect x="69.0" y="9.4" width="601.7" height="255.9" stroke="#1a1a1a" stroke-width="1.7" fill="none"/>
<rect x="69.0" y="293.1" width="601.7" height="256.0" stroke="#1a1a1a" stroke-width="1.7" fill="none"/>
<line x1="68.2" y1="572.6" x2="671.6" y2="572.6" stroke="#1a1a1a" stroke-width="1.7" fill="none"/>
<line x1="69.0" y1="572.6" x2="69.0" y2="826.9" stroke="#1a1a1a" stroke-width="1.7" fill="none"/>
<line x1="670.7" y1="572.6" x2="670.7" y2="826.4" stroke="#1a1a1a" stroke-width="1.7" fill="none"/>
<line x1="89.2" y1="828.7" x2="657.2" y2="828.7" stroke="#1a1a1a" stroke-width="1.7" fill="none"/>
<line x1="658.9" y1="828.7" x2="671.3" y2="828.7" stroke="#1a1a1a" stroke-width="1.7" fill="none"/>
<line x1="69.4" y1="828.7" x2="87.8" y2="828.7" stroke="#8c8c8c" stroke-width="1.8"/>
<line x1="229.5" y1="9.4" x2="229.5" y2="15.4" stroke="#1a1a1a" stroke-width="1.7" fill="none"/>
<line x1="229.5" y1="265.3" x2="229.5" y2="259.3" stroke="#1a1a1a" stroke-width="1.7" fill="none"/>
<line x1="392.3" y1="9.4" x2="392.3" y2="15.4" stroke="#1a1a1a" stroke-width="1.7" fill="none"/>
<line x1="392.3" y1="265.3" x2="392.3" y2="259.3" stroke="#1a1a1a" stroke-width="1.7" fill="none"/>
<line x1="229.5" y1="293.1" x2="229.5" y2="299.1" stroke="#1a1a1a" stroke-width="1.7" fill="none"/>
<line x1="229.5" y1="549.1" x2="229.5" y2="543.1" stroke="#1a1a1a" stroke-width="1.7" fill="none"/>
<line x1="392.3" y1="293.1" x2="392.3" y2="299.1" stroke="#1a1a1a" stroke-width="1.7" fill="none"/>
<line x1="392.3" y1="549.1" x2="392.3" y2="543.1" stroke="#1a1a1a" stroke-width="1.7" fill="none"/>
<line x1="229.5" y1="572.6" x2="229.5" y2="578.6" stroke="#1a1a1a" stroke-width="1.7" fill="none"/>
<line x1="229.5" y1="828.7" x2="229.5" y2="822.7" stroke="#1a1a1a" stroke-width="1.7" fill="none"/>
<line x1="392.3" y1="572.6" x2="392.3" y2="578.6" stroke="#1a1a1a" stroke-width="1.7" fill="none"/>
<line x1="392.3" y1="828.7" x2="392.3" y2="822.7" stroke="#1a1a1a" stroke-width="1.7" fill="none"/>
<line x1="69.0" y1="265.3" x2="75.0" y2="265.3" stroke="#1a1a1a" stroke-width="1.7" fill="none"/>
<line x1="670.7" y1="265.3" x2="664.7" y2="265.3" stroke="#1a1a1a" stroke-width="1.7" fill="none"/>
<line x1="69.0" y1="214.1" x2="75.0" y2="214.1" stroke="#1a1a1a" stroke-width="1.7" fill="none"/>
<line x1="670.7" y1="214.1" x2="664.7" y2="214.1" stroke="#1a1a1a" stroke-width="1.7" fill="none"/>
<line x1="69.0" y1="162.9" x2="75.0" y2="162.9" stroke="#1a1a1a" stroke-width="1.7" fill="none"/>
<line x1="670.7" y1="162.9" x2="664.7" y2="162.9" stroke="#1a1a1a" stroke-width="1.7" fill="none"/>
<line x1="69.0" y1="111.8" x2="75.0" y2="111.8" stroke="#1a1a1a" stroke-width="1.7" fill="none"/>
<line x1="670.7" y1="111.8" x2="664.7" y2="111.8" stroke="#1a1a1a" stroke-width="1.7" fill="none"/>
<line x1="69.0" y1="60.6" x2="75.0" y2="60.6" stroke="#1a1a1a" stroke-width="1.7" fill="none"/>
<line x1="670.7" y1="60.6" x2="664.7" y2="60.6" stroke="#1a1a1a" stroke-width="1.7" fill="none"/>
<line x1="69.0" y1="9.4" x2="75.0" y2="9.4" stroke="#1a1a1a" stroke-width="1.7" fill="none"/>
<line x1="670.7" y1="9.4" x2="664.7" y2="9.4" stroke="#1a1a1a" stroke-width="1.7" fill="none"/>
<line x1="69.0" y1="549.2" x2="75.0" y2="549.2" stroke="#1a1a1a" stroke-width="1.7" fill="none"/>
<line x1="670.7" y1="549.2" x2="664.7" y2="549.2" stroke="#1a1a1a" stroke-width="1.7" fill="none"/>
<line x1="69.0" y1="476.0" x2="75.0" y2="476.0" stroke="#1a1a1a" stroke-width="1.7" fill="none"/>
<line x1="670.7" y1="476.0" x2="664.7" y2="476.0" stroke="#1a1a1a" stroke-width="1.7" fill="none"/>
<line x1="69.0" y1="402.9" x2="75.0" y2="402.9" stroke="#1a1a1a" stroke-width="1.7" fill="none"/>
<line x1="670.7" y1="402.9" x2="664.7" y2="402.9" stroke="#1a1a1a" stroke-width="1.7" fill="none"/>
<line x1="69.0" y1="329.8" x2="75.0" y2="329.8" stroke="#1a1a1a" stroke-width="1.7" fill="none"/>
<line x1="670.7" y1="329.8" x2="664.7" y2="329.8" stroke="#1a1a1a" stroke-width="1.7" fill="none"/>
<line x1="69.0" y1="785.9" x2="75.0" y2="785.9" stroke="#1a1a1a" stroke-width="1.7" fill="none"/>
<line x1="670.7" y1="785.9" x2="664.7" y2="785.9" stroke="#1a1a1a" stroke-width="1.7" fill="none"/>
<line x1="69.0" y1="700.6" x2="75.0" y2="700.6" stroke="#1a1a1a" stroke-width="1.7" fill="none"/>
<line x1="670.7" y1="700.6" x2="664.7" y2="700.6" stroke="#1a1a1a" stroke-width="1.7" fill="none"/>
<line x1="69.0" y1="615.3" x2="75.0" y2="615.3" stroke="#1a1a1a" stroke-width="1.7" fill="none"/>
<line x1="670.7" y1="615.3" x2="664.7" y2="615.3" stroke="#1a1a1a" stroke-width="1.7" fill="none"/>
<text x="63" y="274.7" font-size="27" text-anchor="end">0</text>
<text x="63" y="223.5" font-size="27" text-anchor="end">2</text>
<text x="63" y="172.3" font-size="27" text-anchor="end">4</text>
<text x="63" y="121.2" font-size="27" text-anchor="end">6</text>
<text x="63" y="70.0" font-size="27" text-anchor="end">8</text>
<text x="63" y="18.8" font-size="27" text-anchor="end">10</text>
<text x="63" y="558.6" font-size="27" text-anchor="end">−2</text>
<text x="63" y="485.4" font-size="27" text-anchor="end">−1</text>
<text x="63" y="412.3" font-size="27" text-anchor="end">0</text>
<text x="63" y="339.2" font-size="27" text-anchor="end">1</text>
<text x="63" y="795.3" font-size="27" text-anchor="end">−2</text>
<text x="63" y="710.0" font-size="27" text-anchor="end">0</text>
<text x="63" y="624.7" font-size="27" text-anchor="end">2</text>
<text x="72.2" y="858.5" font-size="27" text-anchor="middle">Γ</text>
<text x="230.8" y="858.5" font-size="27" text-anchor="middle">M</text>
<text x="392.2" y="858.5" font-size="27" text-anchor="middle">K</text>
<text x="676.4" y="858.5" font-size="27" text-anchor="middle">Γ</text>
<text x="317.4" y="252.5" font-size="28" text-anchor="middle">(a)</text>
<text x="318.5" y="343.5" font-size="28" text-anchor="middle">(b)</text>
<text x="314.7" y="621" font-size="28" text-anchor="middle">(c)</text>
<text transform="translate(20,136.6) rotate(-90)" font-size="27" text-anchor="middle">ω (THz)</text>
<text transform="translate(19.5,420.6) rotate(-90)" font-size="27" text-anchor="middle">V (km/s)</text>
<g fill="#000"><polygon points="4.3,693.6 5.3,696.2 17.5,700.9 17.7,698.9"/><ellipse cx="21.1" cy="700.2" rx="2.8" ry="1.55"/><path d="M18.5,700.1 C13,699.9 7.6,700.3 5.8,702.5 C4.7,704.1 5.9,706.1 8.9,706.7" stroke="#000" stroke-width="1.35" fill="none"/></g>
</svg></body></html>
